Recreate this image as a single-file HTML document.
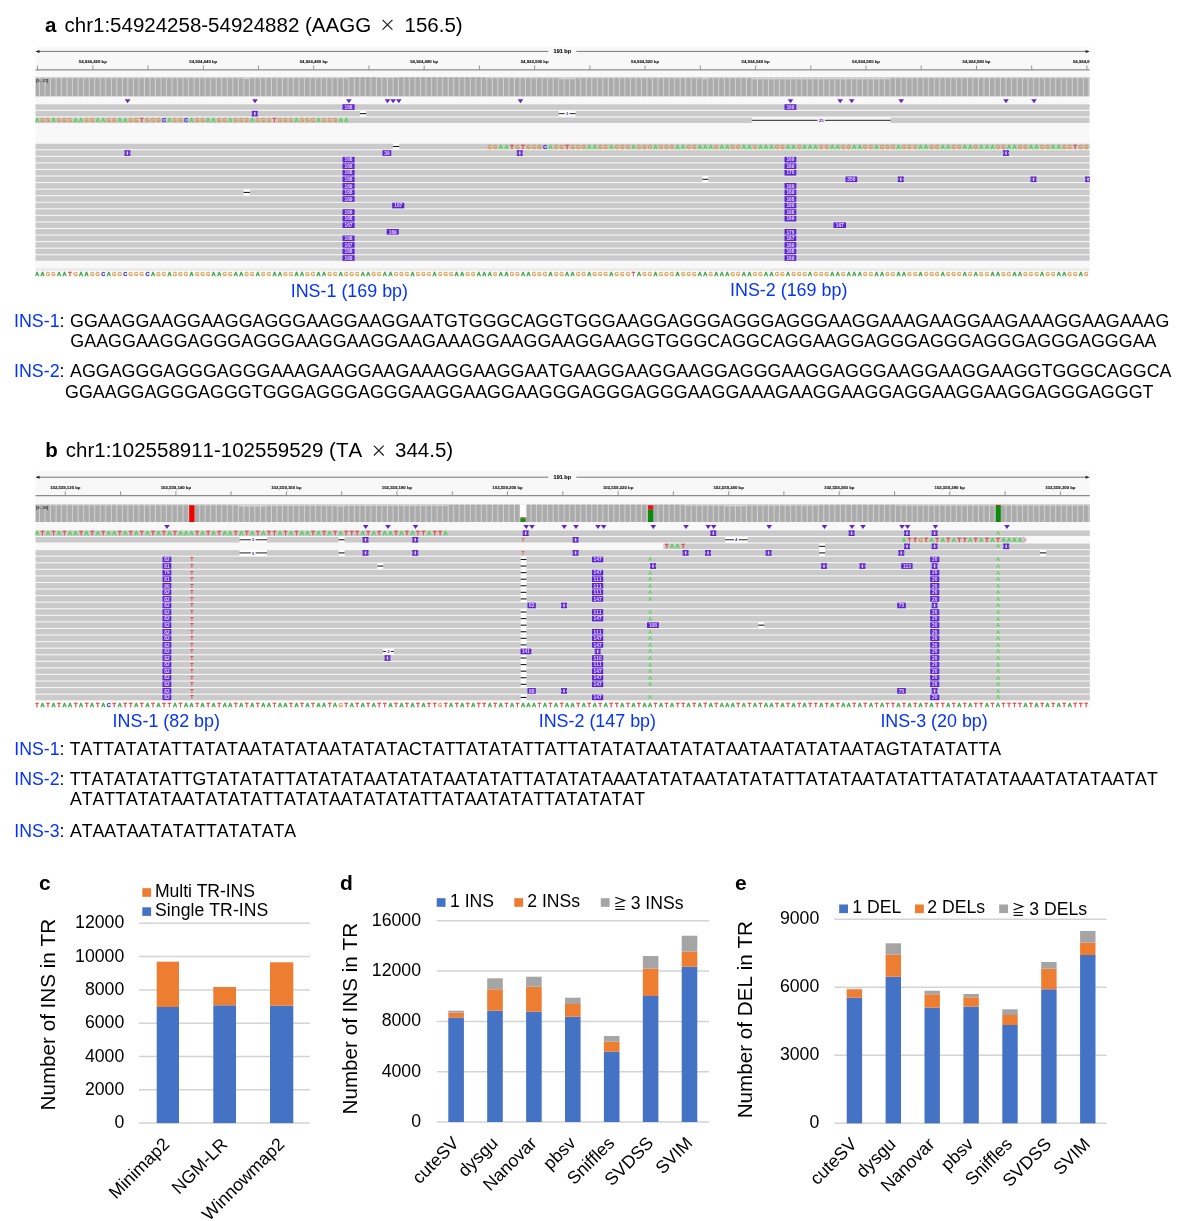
<!DOCTYPE html>
<html><head><meta charset="utf-8"><title>Figure</title>
<style>html,body{margin:0;padding:0;background:#fff}svg{display:block;will-change:transform}text{font-family:"Liberation Sans",sans-serif;font-kerning:none}</style></head><body>
<svg width="1200" height="1221" viewBox="0 0 1200 1221">
<rect width="1200" height="1221" fill="#fff"/>
<defs>
<pattern id="cov" x="34.48" y="0" width="5.523" height="40" patternUnits="userSpaceOnUse"><rect x="0" y="0" width="5.523" height="40" fill="#d2d2d2"/><rect x="0" y="0" width="4.45" height="40" fill="#ababab"/></pattern>
<clipPath id="clipA"><rect x="35.3" y="44" width="1054.4" height="236"/></clipPath>
<clipPath id="clipB"><rect x="35.3" y="468" width="1054.7" height="242"/></clipPath>
</defs>
<text x="45.00" y="31.60" font-size="20.5" fill="#000" text-anchor="start" font-weight="bold">a</text>
<text x="64.50" y="31.60" font-size="20.5" fill="#000" text-anchor="start" font-weight="normal">chr1:54924258-54924882 (AAGG</text>
<path d="M382.6 19.8l9.8 9.8M392.4 19.8l-9.8 9.8" stroke="#1a1a1a" stroke-width="1.15" fill="none"/>
<text x="404.50" y="31.60" font-size="20.5" fill="#000" text-anchor="start" font-weight="normal">156.5)</text>
<g clip-path="url(#clipA)">
<rect x="35.30" y="46.80" width="1054.50" height="221.20" fill="#f8f8f8"/>
<path d="M38.3 51.4H548.3M576.3 51.4H1086.8" stroke="#787878" stroke-width="1" fill="none"/>
<path d="M35.3 51.4l4.2 -1.5v3zM1089.8 51.4l-4.2 -1.5v3z" fill="#222"/>
<text x="562.30" y="53.35" font-size="5.5" fill="#111" text-anchor="middle" font-weight="bold" stroke="#111" stroke-width="0.15">191 bp</text>
<path d="M35.3 69.8H1089.8" stroke="#8c8c8c" stroke-width="1.2" fill="none"/>
<path d="M37.6 69.8v-4.3M92.8 69.8v-4.3M148.0 69.8v-4.3M203.3 69.8v-4.3M258.5 69.8v-4.3M313.7 69.8v-4.3M368.9 69.8v-4.3M424.2 69.8v-4.3M479.4 69.8v-4.3M534.6 69.8v-4.3M589.9 69.8v-4.3M645.1 69.8v-4.3M700.3 69.8v-4.3M755.6 69.8v-4.3M810.8 69.8v-4.3M866.0 69.8v-4.3M921.2 69.8v-4.3M976.5 69.8v-4.3M1031.7 69.8v-4.3M1086.9 69.8v-4.3M1142.2 69.8v-4.3" stroke="#8a8a8a" stroke-width="0.9" fill="none"/>
<text x="92.80" y="63.00" font-size="4.3" fill="#1a1a1a" text-anchor="middle" font-weight="bold" stroke="#1a1a1a" stroke-width="0.12">54,924,420 bp</text>
<text x="203.26" y="63.00" font-size="4.3" fill="#1a1a1a" text-anchor="middle" font-weight="bold" stroke="#1a1a1a" stroke-width="0.12">54,924,440 bp</text>
<text x="313.72" y="63.00" font-size="4.3" fill="#1a1a1a" text-anchor="middle" font-weight="bold" stroke="#1a1a1a" stroke-width="0.12">54,924,460 bp</text>
<text x="424.18" y="63.00" font-size="4.3" fill="#1a1a1a" text-anchor="middle" font-weight="bold" stroke="#1a1a1a" stroke-width="0.12">54,924,480 bp</text>
<text x="534.64" y="63.00" font-size="4.3" fill="#1a1a1a" text-anchor="middle" font-weight="bold" stroke="#1a1a1a" stroke-width="0.12">54,924,500 bp</text>
<text x="645.10" y="63.00" font-size="4.3" fill="#1a1a1a" text-anchor="middle" font-weight="bold" stroke="#1a1a1a" stroke-width="0.12">54,924,520 bp</text>
<text x="755.56" y="63.00" font-size="4.3" fill="#1a1a1a" text-anchor="middle" font-weight="bold" stroke="#1a1a1a" stroke-width="0.12">54,924,540 bp</text>
<text x="866.02" y="63.00" font-size="4.3" fill="#1a1a1a" text-anchor="middle" font-weight="bold" stroke="#1a1a1a" stroke-width="0.12">54,924,560 bp</text>
<text x="976.48" y="63.00" font-size="4.3" fill="#1a1a1a" text-anchor="middle" font-weight="bold" stroke="#1a1a1a" stroke-width="0.12">54,924,580 bp</text>
<text x="1086.94" y="63.00" font-size="4.3" fill="#1a1a1a" text-anchor="middle" font-weight="bold" stroke="#1a1a1a" stroke-width="0.12">54,924,600 bp</text>
<rect x="35.30" y="77.20" width="1054.50" height="19.20" fill="url(#cov)"/>
<rect x="35.30" y="77.20" width="312.70" height="1.10" fill="#d3d3d3"/>
<rect x="378.00" y="77.20" width="19.00" height="1.00" fill="#d3d3d3"/>
<rect x="485.00" y="77.20" width="267.00" height="1.10" fill="#d3d3d3"/>
<rect x="560.00" y="77.20" width="15.00" height="2.00" fill="#d3d3d3"/>
<rect x="702.00" y="77.20" width="6.00" height="2.00" fill="#d3d3d3"/>
<rect x="752.00" y="77.20" width="138.00" height="2.10" fill="#d3d3d3"/>
<rect x="890.00" y="77.20" width="199.80" height="1.10" fill="#d3d3d3"/>
<rect x="244.20" y="77.20" width="5.20" height="1.80" fill="#d3d3d3"/>
<text x="36.30" y="81.70" font-size="3.7" fill="#222" text-anchor="start" font-weight="bold">[0 - 21]</text>
<path d="M124.80 99.30h5.60l-2.80 3.90z" fill="#5b25d0"/>
<path d="M252.20 99.30h5.60l-2.80 3.90z" fill="#5b25d0"/>
<path d="M346.10 99.30h5.60l-2.80 3.90z" fill="#5b25d0"/>
<path d="M384.70 99.30h5.60l-2.80 3.90z" fill="#5b25d0"/>
<path d="M390.30 99.30h5.60l-2.80 3.90z" fill="#5b25d0"/>
<path d="M396.00 99.30h5.60l-2.80 3.90z" fill="#5b25d0"/>
<path d="M517.70 99.30h5.60l-2.80 3.90z" fill="#5b25d0"/>
<path d="M787.70 99.30h5.60l-2.80 3.90z" fill="#5b25d0"/>
<path d="M837.40 99.30h5.60l-2.80 3.90z" fill="#5b25d0"/>
<path d="M848.90 99.30h5.60l-2.80 3.90z" fill="#5b25d0"/>
<path d="M898.40 99.30h5.60l-2.80 3.90z" fill="#5b25d0"/>
<path d="M1003.20 99.30h5.60l-2.80 3.90z" fill="#5b25d0"/>
<path d="M1031.20 99.30h5.60l-2.80 3.90z" fill="#5b25d0"/>
<rect x="35.30" y="104.30" width="1054.50" height="5.50" fill="#cacaca"/>
<rect x="35.30" y="110.90" width="1054.50" height="5.50" fill="#cacaca"/>
<rect x="35.30" y="117.55" width="1054.50" height="5.50" fill="#cacaca"/>
<text y="122.32" font-size="5.6" font-weight="bold" fill="#4fd24f" stroke="#4fd24f" stroke-width="0.3" text-anchor="middle" x="36.9 53.5 75.6 81.1 97.7 103.2 119.7 125.3 169.5 191.5 208.1 213.6 230.2 252.3 296.5 318.6 340.7 346.2">AAAAAAAAAAAAAAAAAA</text>
<text y="122.32" font-size="5.6" font-weight="bold" fill="#d9964f" stroke="#d9964f" stroke-width="0.3" text-anchor="middle" x="42.4 47.9 59.0 64.5 70.0 86.6 92.1 108.7 114.2 130.8 136.3 147.4 152.9 158.4 175.0 180.5 197.1 202.6 219.2 224.7 235.7 241.3 246.8 257.8 263.3 268.9 279.9 285.4 291.0 302.0 307.5 313.0 324.1 329.6 335.1">GGGGGGGGGGGGGGGGGGGGGGGGGGGGGGGGGGG</text>
<text y="122.32" font-size="5.6" font-weight="bold" fill="#4040d8" stroke="#4040d8" stroke-width="0.3" text-anchor="middle" x="163.9 186.0">CC</text>
<text y="122.32" font-size="5.6" font-weight="bold" fill="#e84848" stroke="#e84848" stroke-width="0.3" text-anchor="middle" x="141.8 274.4">TT</text>
<rect x="342.50" y="104.25" width="12.10" height="5.60" fill="#5b25d0"/>
<text x="348.55" y="108.80" font-size="4.8" fill="#efd2ff" text-anchor="middle" font-weight="bold">168</text>
<rect x="784.50" y="104.25" width="11.80" height="5.60" fill="#5b25d0"/>
<text x="790.40" y="108.80" font-size="4.8" fill="#efd2ff" text-anchor="middle" font-weight="bold">169</text>
<rect x="251.80" y="110.85" width="6.00" height="5.60" fill="#5b25d0"/>
<rect x="251.80" y="112.65" width="0.75" height="2.00" fill="#cacaca" opacity="0.75"/>
<rect x="257.05" y="112.65" width="0.75" height="2.00" fill="#cacaca" opacity="0.75"/>
<rect x="254.05" y="111.95" width="1.50" height="3.40" fill="#ead0ff"/>
<rect x="360.00" y="110.55" width="6.30" height="6.20" fill="#ffffff"/>
<rect x="360.00" y="113.10" width="6.30" height="1.10" fill="#1a1a1a"/>
<rect x="558.70" y="110.55" width="16.90" height="6.20" fill="#ffffff"/>
<rect x="558.70" y="113.15" width="6.05" height="1.00" fill="#222"/>
<rect x="569.55" y="113.15" width="6.05" height="1.00" fill="#222"/>
<text x="567.15" y="115.25" font-size="4.4" fill="#5b25d0" text-anchor="middle" font-weight="bold">3</text>
<rect x="751.70" y="117.20" width="139.00" height="6.20" fill="#f8f8f8"/>
<rect x="751.70" y="119.80" width="65.80" height="1.00" fill="#222"/>
<rect x="824.90" y="119.80" width="65.80" height="1.00" fill="#222"/>
<text x="821.20" y="121.90" font-size="4.4" fill="#5b25d0" text-anchor="middle" font-weight="bold">25</text>
<rect x="35.30" y="143.75" width="1054.50" height="5.50" fill="#cacaca"/>
<rect x="35.30" y="150.31" width="1054.50" height="5.50" fill="#cacaca"/>
<rect x="35.30" y="156.87" width="1054.50" height="5.50" fill="#cacaca"/>
<rect x="35.30" y="163.43" width="1054.50" height="5.50" fill="#cacaca"/>
<rect x="35.30" y="169.99" width="1054.50" height="5.50" fill="#cacaca"/>
<rect x="35.30" y="176.55" width="1054.50" height="5.50" fill="#cacaca"/>
<rect x="35.30" y="183.11" width="1054.50" height="5.50" fill="#cacaca"/>
<rect x="35.30" y="189.67" width="1054.50" height="5.50" fill="#cacaca"/>
<rect x="35.30" y="196.23" width="1054.50" height="5.50" fill="#cacaca"/>
<rect x="35.30" y="202.79" width="1054.50" height="5.50" fill="#cacaca"/>
<rect x="35.30" y="209.35" width="1054.50" height="5.50" fill="#cacaca"/>
<rect x="35.30" y="215.91" width="1054.50" height="5.50" fill="#cacaca"/>
<rect x="35.30" y="222.47" width="1054.50" height="5.50" fill="#cacaca"/>
<rect x="35.30" y="229.03" width="1054.50" height="5.50" fill="#cacaca"/>
<rect x="35.30" y="235.59" width="1054.50" height="5.50" fill="#cacaca"/>
<rect x="35.30" y="242.15" width="1054.50" height="5.50" fill="#cacaca"/>
<rect x="35.30" y="248.71" width="1054.50" height="5.50" fill="#cacaca"/>
<rect x="35.30" y="255.27" width="1054.50" height="5.50" fill="#cacaca"/>
<text y="148.52" font-size="5.6" font-weight="bold" fill="#4fd24f" stroke="#4fd24f" stroke-width="0.3" text-anchor="middle" x="500.8 506.4 550.5 589.2 594.7 611.3 633.4 655.5 677.6 683.1 699.7 705.2 710.7 721.8 727.3 743.8 749.4 760.4 765.9 771.5 788.0 793.6 804.6 810.1 815.6 832.2 837.7 854.3 859.8 876.4 898.5 920.6 926.1 942.7 948.2 964.8 970.3 981.3 986.9 992.4 1008.9 1014.5 1031.0 1036.6 1053.1 1058.7">AAAAAAAAAAAAAAAAAAAAAAAAAAAAAAAAAAAAAAAAAAAAAA</text>
<text y="148.52" font-size="5.6" font-weight="bold" fill="#d9964f" stroke="#d9964f" stroke-width="0.3" text-anchor="middle" x="489.8 495.3 517.4 528.4 534.0 539.5 556.1 561.6 572.6 578.2 583.7 600.2 605.8 616.8 622.3 627.9 638.9 644.4 650.0 661.0 666.5 672.0 688.6 694.1 716.2 732.8 738.3 754.9 777.0 782.5 799.1 821.2 826.7 843.3 848.8 865.3 870.9 881.9 887.4 893.0 904.0 909.5 915.1 931.6 937.1 953.7 959.2 975.8 997.9 1003.4 1020.0 1025.5 1042.1 1047.6 1064.2 1069.7 1080.7 1086.3 1091.8">GGGGGGGGGGGGGGGGGGGGGGGGGGGGGGGGGGGGGGGGGGGGGGGGGGGGGGGGGGG</text>
<text y="148.52" font-size="5.6" font-weight="bold" fill="#4040d8" stroke="#4040d8" stroke-width="0.3" text-anchor="middle" x="545.0">C</text>
<text y="148.52" font-size="5.6" font-weight="bold" fill="#e84848" stroke="#e84848" stroke-width="0.3" text-anchor="middle" x="511.9 522.9 567.1 1075.2">TTTT</text>
<rect x="393.00" y="143.40" width="6.30" height="6.20" fill="#ffffff"/>
<rect x="393.00" y="145.95" width="6.30" height="1.10" fill="#1a1a1a"/>
<rect x="124.40" y="150.26" width="6.00" height="5.60" fill="#5b25d0"/>
<rect x="124.40" y="152.06" width="0.75" height="2.00" fill="#cacaca" opacity="0.75"/>
<rect x="129.65" y="152.06" width="0.75" height="2.00" fill="#cacaca" opacity="0.75"/>
<rect x="126.65" y="151.36" width="1.50" height="3.40" fill="#ead0ff"/>
<rect x="382.50" y="150.26" width="8.80" height="5.60" fill="#5b25d0"/>
<text x="386.90" y="154.81" font-size="4.8" fill="#efd2ff" text-anchor="middle" font-weight="bold">39</text>
<rect x="516.80" y="150.26" width="6.00" height="5.60" fill="#5b25d0"/>
<rect x="516.80" y="152.06" width="0.75" height="2.00" fill="#cacaca" opacity="0.75"/>
<rect x="522.05" y="152.06" width="0.75" height="2.00" fill="#cacaca" opacity="0.75"/>
<rect x="519.05" y="151.36" width="1.50" height="3.40" fill="#ead0ff"/>
<rect x="1003.00" y="150.26" width="6.00" height="5.60" fill="#5b25d0"/>
<rect x="1003.00" y="152.06" width="0.75" height="2.00" fill="#cacaca" opacity="0.75"/>
<rect x="1008.25" y="152.06" width="0.75" height="2.00" fill="#cacaca" opacity="0.75"/>
<rect x="1005.25" y="151.36" width="1.50" height="3.40" fill="#ead0ff"/>
<rect x="342.50" y="156.82" width="12.10" height="5.60" fill="#5b25d0"/>
<text x="348.55" y="161.37" font-size="4.8" fill="#efd2ff" text-anchor="middle" font-weight="bold">168</text>
<rect x="342.50" y="163.38" width="12.10" height="5.60" fill="#5b25d0"/>
<text x="348.55" y="167.93" font-size="4.8" fill="#efd2ff" text-anchor="middle" font-weight="bold">168</text>
<rect x="342.50" y="169.94" width="12.10" height="5.60" fill="#5b25d0"/>
<text x="348.55" y="174.49" font-size="4.8" fill="#efd2ff" text-anchor="middle" font-weight="bold">168</text>
<rect x="342.50" y="176.50" width="12.10" height="5.60" fill="#5b25d0"/>
<text x="348.55" y="181.05" font-size="4.8" fill="#efd2ff" text-anchor="middle" font-weight="bold">168</text>
<rect x="342.50" y="183.06" width="12.10" height="5.60" fill="#5b25d0"/>
<text x="348.55" y="187.61" font-size="4.8" fill="#efd2ff" text-anchor="middle" font-weight="bold">169</text>
<rect x="342.50" y="189.62" width="12.10" height="5.60" fill="#5b25d0"/>
<text x="348.55" y="194.17" font-size="4.8" fill="#efd2ff" text-anchor="middle" font-weight="bold">168</text>
<rect x="342.50" y="196.18" width="12.10" height="5.60" fill="#5b25d0"/>
<text x="348.55" y="200.73" font-size="4.8" fill="#efd2ff" text-anchor="middle" font-weight="bold">169</text>
<rect x="342.50" y="209.30" width="12.10" height="5.60" fill="#5b25d0"/>
<text x="348.55" y="213.85" font-size="4.8" fill="#efd2ff" text-anchor="middle" font-weight="bold">166</text>
<rect x="342.50" y="215.86" width="12.10" height="5.60" fill="#5b25d0"/>
<text x="348.55" y="220.41" font-size="4.8" fill="#efd2ff" text-anchor="middle" font-weight="bold">168</text>
<rect x="342.50" y="222.42" width="12.10" height="5.60" fill="#5b25d0"/>
<text x="348.55" y="226.97" font-size="4.8" fill="#efd2ff" text-anchor="middle" font-weight="bold">167</text>
<rect x="342.50" y="235.54" width="12.10" height="5.60" fill="#5b25d0"/>
<text x="348.55" y="240.09" font-size="4.8" fill="#efd2ff" text-anchor="middle" font-weight="bold">168</text>
<rect x="342.50" y="242.10" width="12.10" height="5.60" fill="#5b25d0"/>
<text x="348.55" y="246.65" font-size="4.8" fill="#efd2ff" text-anchor="middle" font-weight="bold">167</text>
<rect x="342.50" y="248.66" width="12.10" height="5.60" fill="#5b25d0"/>
<text x="348.55" y="253.21" font-size="4.8" fill="#efd2ff" text-anchor="middle" font-weight="bold">168</text>
<rect x="342.50" y="255.22" width="12.10" height="5.60" fill="#5b25d0"/>
<text x="348.55" y="259.77" font-size="4.8" fill="#efd2ff" text-anchor="middle" font-weight="bold">168</text>
<rect x="392.20" y="202.74" width="12.10" height="5.60" fill="#5b25d0"/>
<text x="398.25" y="207.29" font-size="4.8" fill="#efd2ff" text-anchor="middle" font-weight="bold">167</text>
<rect x="386.70" y="228.98" width="12.10" height="5.60" fill="#5b25d0"/>
<text x="392.75" y="233.53" font-size="4.8" fill="#efd2ff" text-anchor="middle" font-weight="bold">169</text>
<rect x="784.50" y="156.82" width="11.80" height="5.60" fill="#5b25d0"/>
<text x="790.40" y="161.37" font-size="4.8" fill="#efd2ff" text-anchor="middle" font-weight="bold">169</text>
<rect x="784.50" y="163.38" width="11.80" height="5.60" fill="#5b25d0"/>
<text x="790.40" y="167.93" font-size="4.8" fill="#efd2ff" text-anchor="middle" font-weight="bold">169</text>
<rect x="784.50" y="169.94" width="11.80" height="5.60" fill="#5b25d0"/>
<text x="790.40" y="174.49" font-size="4.8" fill="#efd2ff" text-anchor="middle" font-weight="bold">170</text>
<rect x="784.50" y="183.06" width="11.80" height="5.60" fill="#5b25d0"/>
<text x="790.40" y="187.61" font-size="4.8" fill="#efd2ff" text-anchor="middle" font-weight="bold">169</text>
<rect x="784.50" y="189.62" width="11.80" height="5.60" fill="#5b25d0"/>
<text x="790.40" y="194.17" font-size="4.8" fill="#efd2ff" text-anchor="middle" font-weight="bold">169</text>
<rect x="784.50" y="196.18" width="11.80" height="5.60" fill="#5b25d0"/>
<text x="790.40" y="200.73" font-size="4.8" fill="#efd2ff" text-anchor="middle" font-weight="bold">168</text>
<rect x="784.50" y="202.74" width="11.80" height="5.60" fill="#5b25d0"/>
<text x="790.40" y="207.29" font-size="4.8" fill="#efd2ff" text-anchor="middle" font-weight="bold">169</text>
<rect x="784.50" y="209.30" width="11.80" height="5.60" fill="#5b25d0"/>
<text x="790.40" y="213.85" font-size="4.8" fill="#efd2ff" text-anchor="middle" font-weight="bold">168</text>
<rect x="784.50" y="215.86" width="11.80" height="5.60" fill="#5b25d0"/>
<text x="790.40" y="220.41" font-size="4.8" fill="#efd2ff" text-anchor="middle" font-weight="bold">169</text>
<rect x="784.50" y="228.98" width="11.80" height="5.60" fill="#5b25d0"/>
<text x="790.40" y="233.53" font-size="4.8" fill="#efd2ff" text-anchor="middle" font-weight="bold">170</text>
<rect x="784.50" y="235.54" width="11.80" height="5.60" fill="#5b25d0"/>
<text x="790.40" y="240.09" font-size="4.8" fill="#efd2ff" text-anchor="middle" font-weight="bold">167</text>
<rect x="784.50" y="242.10" width="11.80" height="5.60" fill="#5b25d0"/>
<text x="790.40" y="246.65" font-size="4.8" fill="#efd2ff" text-anchor="middle" font-weight="bold">169</text>
<rect x="784.50" y="248.66" width="11.80" height="5.60" fill="#5b25d0"/>
<text x="790.40" y="253.21" font-size="4.8" fill="#efd2ff" text-anchor="middle" font-weight="bold">168</text>
<rect x="784.50" y="255.22" width="11.80" height="5.60" fill="#5b25d0"/>
<text x="790.40" y="259.77" font-size="4.8" fill="#efd2ff" text-anchor="middle" font-weight="bold">169</text>
<rect x="833.50" y="222.42" width="12.50" height="5.60" fill="#5b25d0"/>
<text x="839.75" y="226.97" font-size="4.8" fill="#efd2ff" text-anchor="middle" font-weight="bold">167</text>
<rect x="702.50" y="176.20" width="5.80" height="6.20" fill="#ffffff"/>
<rect x="702.50" y="178.75" width="5.80" height="1.10" fill="#1a1a1a"/>
<rect x="845.50" y="176.50" width="11.70" height="5.60" fill="#5b25d0"/>
<text x="851.35" y="181.05" font-size="4.8" fill="#efd2ff" text-anchor="middle" font-weight="bold">350</text>
<rect x="897.80" y="176.50" width="6.00" height="5.60" fill="#5b25d0"/>
<rect x="897.80" y="178.30" width="0.75" height="2.00" fill="#cacaca" opacity="0.75"/>
<rect x="903.05" y="178.30" width="0.75" height="2.00" fill="#cacaca" opacity="0.75"/>
<rect x="900.05" y="177.60" width="1.50" height="3.40" fill="#ead0ff"/>
<rect x="1030.50" y="176.50" width="6.00" height="5.60" fill="#5b25d0"/>
<rect x="1030.50" y="178.30" width="0.75" height="2.00" fill="#cacaca" opacity="0.75"/>
<rect x="1035.75" y="178.30" width="0.75" height="2.00" fill="#cacaca" opacity="0.75"/>
<rect x="1032.75" y="177.60" width="1.50" height="3.40" fill="#ead0ff"/>
<rect x="1085.00" y="176.50" width="6.00" height="5.60" fill="#5b25d0"/>
<rect x="1085.00" y="178.30" width="0.75" height="2.00" fill="#cacaca" opacity="0.75"/>
<rect x="1090.25" y="178.30" width="0.75" height="2.00" fill="#cacaca" opacity="0.75"/>
<rect x="1087.25" y="177.60" width="1.50" height="3.40" fill="#ead0ff"/>
<rect x="243.50" y="189.32" width="6.50" height="6.20" fill="#ffffff"/>
<rect x="243.50" y="191.87" width="6.50" height="1.10" fill="#1a1a1a"/>
</g>
<g clip-path="url(#clipA)">
<rect x="35.30" y="268.00" width="1054.50" height="3.40" fill="#ececec"/>
<rect x="35.30" y="271.40" width="1054.50" height="6.40" fill="#fdfdfd"/>
<text y="276.22" font-size="5.6" font-weight="bold" fill="#2ea43a" stroke="#2ea43a" stroke-width="0.3" text-anchor="middle" x="36.9 42.4 59.0 64.5 81.1 86.6 108.7 152.9 169.5 191.5 213.6 219.2 235.7 241.3 257.8 274.4 279.9 296.5 302.0 318.6 324.1 340.7 362.8 368.3 384.8 390.4 412.5 434.6 456.6 462.2 478.7 484.3 489.8 500.8 506.4 522.9 528.4 550.5 567.1 572.6 589.2 611.3 638.9 655.5 677.6 699.7 705.2 716.2 721.8 727.3 743.8 749.4 765.9 771.5 788.0 810.1 832.2 837.7 848.8 854.3 859.8 876.4 881.9 898.5 904.0 920.6 942.7 964.8 975.8 992.4 997.9 1014.5 1020.0 1042.1 1058.7 1064.2 1080.7">AAAAAAAAAAAAAAAAAAAAAAAAAAAAAAAAAAAAAAAAAAAAAAAAAAAAAAAAAAAAAAAAAAAAAAAAAAAAA</text>
<text y="276.22" font-size="5.6" font-weight="bold" fill="#e2a052" stroke="#e2a052" stroke-width="0.3" text-anchor="middle" x="47.9 53.5 75.6 92.1 97.7 114.2 119.7 130.8 136.3 141.8 158.4 163.9 175.0 180.5 186.0 197.1 202.6 208.1 224.7 230.2 246.8 252.3 263.3 268.9 285.4 291.0 307.5 313.0 329.6 335.1 346.2 351.7 357.2 373.8 379.3 395.9 401.4 406.9 418.0 423.5 429.0 440.1 445.6 451.1 467.7 473.2 495.3 511.9 517.4 534.0 539.5 545.0 556.1 561.6 578.2 583.7 594.7 600.2 605.8 616.8 622.3 627.9 644.4 650.0 661.0 666.5 672.0 683.1 688.6 694.1 710.7 732.8 738.3 754.9 760.4 777.0 782.5 793.6 799.1 804.6 815.6 821.2 826.7 843.3 865.3 870.9 887.4 893.0 909.5 915.1 926.1 931.6 937.1 948.2 953.7 959.2 970.3 981.3 986.9 1003.4 1008.9 1025.5 1031.0 1036.6 1047.6 1053.1 1069.7 1075.2 1086.3">GGGGGGGGGGGGGGGGGGGGGGGGGGGGGGGGGGGGGGGGGGGGGGGGGGGGGGGGGGGGGGGGGGGGGGGGGGGGGGGGGGGGGGGGGGGGGGGGGGGGGGGGGGGGG</text>
<text y="276.22" font-size="5.6" font-weight="bold" fill="#3a3ad0" stroke="#3a3ad0" stroke-width="0.3" text-anchor="middle" x="103.2 125.3 147.4">CCC</text>
<text y="276.22" font-size="5.6" font-weight="bold" fill="#e84a4a" stroke="#e84a4a" stroke-width="0.3" text-anchor="middle" x="70.0 633.4">TT</text>
</g>
<text x="290.70" y="297.30" font-size="17.9" fill="#0433ff" text-anchor="start" font-weight="normal">INS-1 (169 bp)</text>
<text x="730.00" y="296.20" font-size="17.9" fill="#0433ff" text-anchor="start" font-weight="normal">INS-2 (169 bp)</text>
<text x="14.00" y="327.30" font-size="17.88" fill="#0433ff" text-anchor="start" font-weight="normal">INS-1</text>
<text x="59.50" y="327.30" font-size="17.88" fill="#000" text-anchor="start" font-weight="normal">:</text>
<text x="70.00" y="327.30" font-size="17.88" fill="#000" text-anchor="start" font-weight="normal" textLength="1099.3" lengthAdjust="spacing">GGAAGGAAGGAAGGAGGGAAGGAAGGAATGTGGGCAGGTGGGAAGGAGGGAGGGAGGGAAGGAAAGAAGGAAGAAAGGAAGAAAG</text>
<text x="70.30" y="347.20" font-size="17.88" fill="#000" text-anchor="start" font-weight="normal" textLength="1086.2" lengthAdjust="spacing">GAAGGAAGGAGGGAGGGAAGGAAGGAAGAAAGGAAGGAAGGAAGGTGGGCAGGCAGGAAGGAGGGAGGGAGGGAGGGAGGGAA</text>
<text x="14.00" y="377.20" font-size="17.88" fill="#0433ff" text-anchor="start" font-weight="normal">INS-2</text>
<text x="59.50" y="377.20" font-size="17.88" fill="#000" text-anchor="start" font-weight="normal">:</text>
<text x="70.00" y="377.20" font-size="17.88" fill="#000" text-anchor="start" font-weight="normal" textLength="1101.5" lengthAdjust="spacing">AGGAGGGAGGGAGGGAAAGAAGGAAGAAAGGAAGGAATGAAGGAAGGAAGGAGGGAAGGAGGGAAGGAAGGAAGGTGGGCAGGCA</text>
<text x="65.00" y="397.60" font-size="17.88" fill="#000" text-anchor="start" font-weight="normal" textLength="1088.5" lengthAdjust="spacing">GGAAGGAGGGAGGGTGGGAGGGAGGGAAGGAAGGAAGGGAGGGAGGGAAGGAAAGAAGGAAGGAGGAAGGAAGGAGGGAGGGT</text>
<text x="45.30" y="457.20" font-size="20.5" fill="#000" text-anchor="start" font-weight="bold">b</text>
<text x="65.80" y="457.20" font-size="20.5" fill="#000" text-anchor="start" font-weight="normal">chr1:102558911-102559529 (TA</text>
<path d="M373.9 445.7l9.8 9.8M383.7 445.7l-9.8 9.8" stroke="#1a1a1a" stroke-width="1.15" fill="none"/>
<text x="395.00" y="457.20" font-size="20.5" fill="#000" text-anchor="start" font-weight="normal">344.5)</text>
<g clip-path="url(#clipB)">
<rect x="35.30" y="471.50" width="1054.50" height="229.10" fill="#f8f8f8"/>
<path d="M38.3 477.2H548.3M576.3 477.2H1086.8" stroke="#787878" stroke-width="1" fill="none"/>
<path d="M35.3 477.2l4.2 -1.5v3zM1089.8 477.2l-4.2 -1.5v3z" fill="#222"/>
<text x="562.30" y="479.15" font-size="5.5" fill="#111" text-anchor="middle" font-weight="bold" stroke="#111" stroke-width="0.15">191 bp</text>
<path d="M35.3 495.6H1089.8" stroke="#8c8c8c" stroke-width="1.2" fill="none"/>
<path d="M10.0 495.6v-4.3M65.3 495.6v-4.3M120.6 495.6v-4.3M175.9 495.6v-4.3M231.1 495.6v-4.3M286.4 495.6v-4.3M341.7 495.6v-4.3M397.0 495.6v-4.3M452.3 495.6v-4.3M507.5 495.6v-4.3M562.8 495.6v-4.3M618.1 495.6v-4.3M673.4 495.6v-4.3M728.7 495.6v-4.3M783.9 495.6v-4.3M839.2 495.6v-4.3M894.5 495.6v-4.3M949.8 495.6v-4.3M1005.1 495.6v-4.3M1060.3 495.6v-4.3M1115.6 495.6v-4.3" stroke="#8a8a8a" stroke-width="0.9" fill="none"/>
<text x="65.30" y="488.80" font-size="4.3" fill="#1a1a1a" text-anchor="middle" font-weight="bold" stroke="#1a1a1a" stroke-width="0.12">102,559,120 bp</text>
<text x="175.86" y="488.80" font-size="4.3" fill="#1a1a1a" text-anchor="middle" font-weight="bold" stroke="#1a1a1a" stroke-width="0.12">102,559,140 bp</text>
<text x="286.42" y="488.80" font-size="4.3" fill="#1a1a1a" text-anchor="middle" font-weight="bold" stroke="#1a1a1a" stroke-width="0.12">102,559,160 bp</text>
<text x="396.98" y="488.80" font-size="4.3" fill="#1a1a1a" text-anchor="middle" font-weight="bold" stroke="#1a1a1a" stroke-width="0.12">102,559,180 bp</text>
<text x="507.54" y="488.80" font-size="4.3" fill="#1a1a1a" text-anchor="middle" font-weight="bold" stroke="#1a1a1a" stroke-width="0.12">102,559,200 bp</text>
<text x="618.10" y="488.80" font-size="4.3" fill="#1a1a1a" text-anchor="middle" font-weight="bold" stroke="#1a1a1a" stroke-width="0.12">102,559,220 bp</text>
<text x="728.66" y="488.80" font-size="4.3" fill="#1a1a1a" text-anchor="middle" font-weight="bold" stroke="#1a1a1a" stroke-width="0.12">102,559,240 bp</text>
<text x="839.22" y="488.80" font-size="4.3" fill="#1a1a1a" text-anchor="middle" font-weight="bold" stroke="#1a1a1a" stroke-width="0.12">102,559,260 bp</text>
<text x="949.78" y="488.80" font-size="4.3" fill="#1a1a1a" text-anchor="middle" font-weight="bold" stroke="#1a1a1a" stroke-width="0.12">102,559,280 bp</text>
<text x="1060.34" y="488.80" font-size="4.3" fill="#1a1a1a" text-anchor="middle" font-weight="bold" stroke="#1a1a1a" stroke-width="0.12">102,559,300 bp</text>
<rect x="35.30" y="504.50" width="1054.50" height="17.50" fill="url(#cov)"/>
<rect x="35.30" y="504.50" width="203.70" height="0.90" fill="#d3d3d3"/>
<rect x="239.00" y="504.50" width="28.00" height="2.00" fill="#d3d3d3"/>
<rect x="267.00" y="504.50" width="181.00" height="1.40" fill="#d3d3d3"/>
<rect x="338.00" y="504.50" width="7.00" height="2.00" fill="#d3d3d3"/>
<rect x="448.00" y="504.50" width="235.00" height="0.50" fill="#d3d3d3"/>
<rect x="683.00" y="504.50" width="137.00" height="1.20" fill="#d3d3d3"/>
<rect x="725.00" y="504.50" width="22.00" height="1.80" fill="#d3d3d3"/>
<rect x="820.00" y="504.50" width="75.00" height="0.60" fill="#d3d3d3"/>
<rect x="895.00" y="504.50" width="194.80" height="1.20" fill="#d3d3d3"/>
<text x="36.30" y="509.40" font-size="3.7" fill="#222" text-anchor="start" font-weight="bold">[0 - 30]</text>
<rect x="189.20" y="505.30" width="5.30" height="16.70" fill="#f00000"/>
<rect x="520.00" y="504.30" width="6.40" height="13.30" fill="#ffffff"/>
<rect x="520.40" y="517.40" width="5.30" height="1.00" fill="#e02020"/>
<rect x="520.40" y="518.40" width="5.30" height="3.60" fill="#109010"/>
<rect x="648.00" y="505.30" width="5.20" height="4.40" fill="#f01010"/>
<rect x="648.00" y="509.70" width="5.20" height="12.30" fill="#0a8a0a"/>
<rect x="995.80" y="504.90" width="5.00" height="1.10" fill="#c03010"/>
<rect x="995.80" y="506.00" width="5.00" height="16.00" fill="#0a8a0a"/>
<path d="M164.20 525.10h5.60l-2.80 3.90z" fill="#5b25d0"/>
<path d="M362.90 525.10h5.60l-2.80 3.90z" fill="#5b25d0"/>
<path d="M385.20 525.10h5.60l-2.80 3.90z" fill="#5b25d0"/>
<path d="M412.70 525.10h5.60l-2.80 3.90z" fill="#5b25d0"/>
<path d="M523.40 525.10h5.60l-2.80 3.90z" fill="#5b25d0"/>
<path d="M529.20 525.10h5.60l-2.80 3.90z" fill="#5b25d0"/>
<path d="M561.40 525.10h5.60l-2.80 3.90z" fill="#5b25d0"/>
<path d="M573.20 525.10h5.60l-2.80 3.90z" fill="#5b25d0"/>
<path d="M595.20 525.10h5.60l-2.80 3.90z" fill="#5b25d0"/>
<path d="M600.90 525.10h5.60l-2.80 3.90z" fill="#5b25d0"/>
<path d="M650.50 525.10h5.60l-2.80 3.90z" fill="#5b25d0"/>
<path d="M683.20 525.10h5.60l-2.80 3.90z" fill="#5b25d0"/>
<path d="M705.40 525.10h5.60l-2.80 3.90z" fill="#5b25d0"/>
<path d="M710.90 525.10h5.60l-2.80 3.90z" fill="#5b25d0"/>
<path d="M766.40 525.10h5.60l-2.80 3.90z" fill="#5b25d0"/>
<path d="M821.70 525.10h5.60l-2.80 3.90z" fill="#5b25d0"/>
<path d="M849.20 525.10h5.60l-2.80 3.90z" fill="#5b25d0"/>
<path d="M860.20 525.10h5.60l-2.80 3.90z" fill="#5b25d0"/>
<path d="M899.20 525.10h5.60l-2.80 3.90z" fill="#5b25d0"/>
<path d="M904.80 525.10h5.60l-2.80 3.90z" fill="#5b25d0"/>
<path d="M932.60 525.10h5.60l-2.80 3.90z" fill="#5b25d0"/>
<path d="M1004.20 525.10h5.60l-2.80 3.90z" fill="#5b25d0"/>
<rect x="35.30" y="530.45" width="1054.50" height="5.50" fill="#cacaca"/>
<text y="535.22" font-size="5.6" font-weight="bold" fill="#4fd24f" stroke="#4fd24f" stroke-width="0.3" text-anchor="middle" x="36.9 47.9 59.0 70.0 75.6 86.6 97.7 108.7 114.2 125.3 136.3 147.4 158.4 169.5 180.5 186.0 191.5 202.6 213.6 224.7 230.2 241.3 252.3 263.3 279.9 291.0 302.0 307.5 318.6 329.6 340.7 362.8 373.8 384.8 390.4 401.4 412.5 429.0 445.6">AAAAAAAAAAAAAAAAAAAAAAAAAAAAAAAAAAAAAAA</text>
<text y="535.22" font-size="5.6" font-weight="bold" fill="#e84848" stroke="#e84848" stroke-width="0.3" text-anchor="middle" x="42.4 53.5 64.5 81.1 92.1 103.2 119.7 130.8 141.8 152.9 163.9 175.0 197.1 208.1 219.2 235.7 246.8 257.8 268.9 274.4 285.4 296.5 313.0 324.1 335.1 346.2 351.7 357.2 368.3 379.3 395.9 406.9 418.0 423.5 434.6 440.1">TTTTTTTTTTTTTTTTTTTTTTTTTTTTTTTTTTTT</text>
<rect x="522.70" y="530.40" width="6.00" height="5.60" fill="#5b25d0"/>
<rect x="522.70" y="532.20" width="0.75" height="2.00" fill="#cacaca" opacity="0.75"/>
<rect x="527.95" y="532.20" width="0.75" height="2.00" fill="#cacaca" opacity="0.75"/>
<rect x="524.95" y="531.50" width="1.50" height="3.40" fill="#ead0ff"/>
<rect x="710.30" y="530.40" width="6.00" height="5.60" fill="#5b25d0"/>
<rect x="710.30" y="532.20" width="0.75" height="2.00" fill="#cacaca" opacity="0.75"/>
<rect x="715.55" y="532.20" width="0.75" height="2.00" fill="#cacaca" opacity="0.75"/>
<rect x="712.55" y="531.50" width="1.50" height="3.40" fill="#ead0ff"/>
<rect x="848.60" y="530.40" width="6.00" height="5.60" fill="#5b25d0"/>
<rect x="848.60" y="532.20" width="0.75" height="2.00" fill="#cacaca" opacity="0.75"/>
<rect x="853.85" y="532.20" width="0.75" height="2.00" fill="#cacaca" opacity="0.75"/>
<rect x="850.85" y="531.50" width="1.50" height="3.40" fill="#ead0ff"/>
<rect x="904.00" y="530.40" width="6.00" height="5.60" fill="#5b25d0"/>
<rect x="904.00" y="532.20" width="0.75" height="2.00" fill="#cacaca" opacity="0.75"/>
<rect x="909.25" y="532.20" width="0.75" height="2.00" fill="#cacaca" opacity="0.75"/>
<rect x="906.25" y="531.50" width="1.50" height="3.40" fill="#ead0ff"/>
<rect x="931.60" y="530.40" width="6.00" height="5.60" fill="#5b25d0"/>
<rect x="931.60" y="532.20" width="0.75" height="2.00" fill="#cacaca" opacity="0.75"/>
<rect x="936.85" y="532.20" width="0.75" height="2.00" fill="#cacaca" opacity="0.75"/>
<rect x="933.85" y="531.50" width="1.50" height="3.40" fill="#ead0ff"/>
<path d="M35.3 537.02H1023l3.3 2.75l-3.3 2.75H35.3z" fill="#cacaca"/>
<rect x="239.50" y="536.67" width="27.50" height="6.20" fill="#ffffff"/>
<rect x="239.50" y="539.27" width="11.35" height="1.00" fill="#222"/>
<rect x="255.65" y="539.27" width="11.35" height="1.00" fill="#222"/>
<text x="253.25" y="541.37" font-size="4.4" fill="#5b25d0" text-anchor="middle" font-weight="bold">5</text>
<rect x="338.70" y="536.67" width="5.90" height="6.20" fill="#ffffff"/>
<rect x="338.70" y="539.22" width="5.90" height="1.10" fill="#1a1a1a"/>
<rect x="362.50" y="536.97" width="6.00" height="5.60" fill="#5b25d0"/>
<rect x="362.50" y="538.77" width="0.75" height="2.00" fill="#cacaca" opacity="0.75"/>
<rect x="367.75" y="538.77" width="0.75" height="2.00" fill="#cacaca" opacity="0.75"/>
<rect x="364.75" y="538.07" width="1.50" height="3.40" fill="#ead0ff"/>
<rect x="412.20" y="536.97" width="6.00" height="5.60" fill="#5b25d0"/>
<rect x="412.20" y="538.77" width="0.75" height="2.00" fill="#cacaca" opacity="0.75"/>
<rect x="417.45" y="538.77" width="0.75" height="2.00" fill="#cacaca" opacity="0.75"/>
<rect x="414.45" y="538.07" width="1.50" height="3.40" fill="#ead0ff"/>
<rect x="572.60" y="536.97" width="6.00" height="5.60" fill="#5b25d0"/>
<rect x="572.60" y="538.77" width="0.75" height="2.00" fill="#cacaca" opacity="0.75"/>
<rect x="577.85" y="538.77" width="0.75" height="2.00" fill="#cacaca" opacity="0.75"/>
<rect x="574.85" y="538.07" width="1.50" height="3.40" fill="#ead0ff"/>
<rect x="725.00" y="536.67" width="22.60" height="6.20" fill="#ffffff"/>
<rect x="725.00" y="539.27" width="8.90" height="1.00" fill="#222"/>
<rect x="738.70" y="539.27" width="8.90" height="1.00" fill="#222"/>
<text x="736.30" y="541.37" font-size="4.4" fill="#5b25d0" text-anchor="middle" font-weight="bold">4</text>
<text y="541.79" font-size="5.6" font-weight="bold" fill="#4fd24f" stroke="#4fd24f" stroke-width="0.3" text-anchor="middle" x="904.0 931.6 942.7 953.7 970.3 981.3 992.4 1003.4 1008.9 1014.5 1020.0">AAAAAAAAAAA</text>
<text y="541.79" font-size="5.6" font-weight="bold" fill="#d9964f" stroke="#d9964f" stroke-width="0.3" text-anchor="middle" x="920.6">G</text>
<text y="541.79" font-size="5.6" font-weight="bold" fill="#e84848" stroke="#e84848" stroke-width="0.3" text-anchor="middle" x="909.5 915.1 926.1 937.1 948.2 959.2 964.8 975.8 986.9 997.9">TTTTTTTTTT</text>
<path d="M1023.2 537.02l3.2 2.75l-3.2 2.75" stroke="#ee7a8a" stroke-width="0.9" fill="none"/>
<rect x="663.30" y="543.59" width="426.50" height="5.50" fill="#cacaca"/>
<text y="548.36" font-size="5.6" font-weight="bold" fill="#4fd24f" stroke="#4fd24f" stroke-width="0.3" text-anchor="middle" x="672.1 677.6">AA</text>
<text y="548.36" font-size="5.6" font-weight="bold" fill="#e84848" stroke="#e84848" stroke-width="0.3" text-anchor="middle" x="666.6 683.2">TT</text>
<rect x="819.20" y="543.24" width="5.90" height="6.20" fill="#ffffff"/>
<rect x="819.20" y="545.79" width="5.90" height="1.10" fill="#1a1a1a"/>
<rect x="904.00" y="543.54" width="6.00" height="5.60" fill="#5b25d0"/>
<rect x="904.00" y="545.34" width="0.75" height="2.00" fill="#cacaca" opacity="0.75"/>
<rect x="909.25" y="545.34" width="0.75" height="2.00" fill="#cacaca" opacity="0.75"/>
<rect x="906.25" y="544.64" width="1.50" height="3.40" fill="#ead0ff"/>
<rect x="931.60" y="543.54" width="6.00" height="5.60" fill="#5b25d0"/>
<rect x="931.60" y="545.34" width="0.75" height="2.00" fill="#cacaca" opacity="0.75"/>
<rect x="936.85" y="545.34" width="0.75" height="2.00" fill="#cacaca" opacity="0.75"/>
<rect x="933.85" y="544.64" width="1.50" height="3.40" fill="#ead0ff"/>
<rect x="1003.20" y="543.54" width="6.00" height="5.60" fill="#5b25d0"/>
<rect x="1003.20" y="545.34" width="0.75" height="2.00" fill="#cacaca" opacity="0.75"/>
<rect x="1008.45" y="545.34" width="0.75" height="2.00" fill="#cacaca" opacity="0.75"/>
<rect x="1005.45" y="544.64" width="1.50" height="3.40" fill="#ead0ff"/>
<rect x="35.30" y="550.16" width="1054.50" height="5.50" fill="#cacaca"/>
<rect x="239.50" y="549.81" width="27.50" height="6.20" fill="#ffffff"/>
<rect x="239.50" y="552.41" width="11.35" height="1.00" fill="#222"/>
<rect x="255.65" y="552.41" width="11.35" height="1.00" fill="#222"/>
<text x="253.25" y="554.51" font-size="4.4" fill="#5b25d0" text-anchor="middle" font-weight="bold">5</text>
<rect x="338.70" y="549.81" width="5.90" height="6.20" fill="#ffffff"/>
<rect x="338.70" y="552.36" width="5.90" height="1.10" fill="#1a1a1a"/>
<rect x="362.50" y="550.11" width="6.00" height="5.60" fill="#5b25d0"/>
<rect x="362.50" y="551.91" width="0.75" height="2.00" fill="#cacaca" opacity="0.75"/>
<rect x="367.75" y="551.91" width="0.75" height="2.00" fill="#cacaca" opacity="0.75"/>
<rect x="364.75" y="551.21" width="1.50" height="3.40" fill="#ead0ff"/>
<rect x="412.20" y="550.11" width="6.00" height="5.60" fill="#5b25d0"/>
<rect x="412.20" y="551.91" width="0.75" height="2.00" fill="#cacaca" opacity="0.75"/>
<rect x="417.45" y="551.91" width="0.75" height="2.00" fill="#cacaca" opacity="0.75"/>
<rect x="414.45" y="551.21" width="1.50" height="3.40" fill="#ead0ff"/>
<rect x="572.60" y="550.11" width="6.00" height="5.60" fill="#5b25d0"/>
<rect x="572.60" y="551.91" width="0.75" height="2.00" fill="#cacaca" opacity="0.75"/>
<rect x="577.85" y="551.91" width="0.75" height="2.00" fill="#cacaca" opacity="0.75"/>
<rect x="574.85" y="551.21" width="1.50" height="3.40" fill="#ead0ff"/>
<rect x="682.60" y="550.11" width="6.00" height="5.60" fill="#5b25d0"/>
<rect x="682.60" y="551.91" width="0.75" height="2.00" fill="#cacaca" opacity="0.75"/>
<rect x="687.85" y="551.91" width="0.75" height="2.00" fill="#cacaca" opacity="0.75"/>
<rect x="684.85" y="551.21" width="1.50" height="3.40" fill="#ead0ff"/>
<rect x="705.00" y="550.11" width="6.00" height="5.60" fill="#5b25d0"/>
<rect x="705.00" y="551.91" width="0.75" height="2.00" fill="#cacaca" opacity="0.75"/>
<rect x="710.25" y="551.91" width="0.75" height="2.00" fill="#cacaca" opacity="0.75"/>
<rect x="707.25" y="551.21" width="1.50" height="3.40" fill="#ead0ff"/>
<rect x="765.60" y="550.11" width="6.00" height="5.60" fill="#5b25d0"/>
<rect x="765.60" y="551.91" width="0.75" height="2.00" fill="#cacaca" opacity="0.75"/>
<rect x="770.85" y="551.91" width="0.75" height="2.00" fill="#cacaca" opacity="0.75"/>
<rect x="767.85" y="551.21" width="1.50" height="3.40" fill="#ead0ff"/>
<rect x="819.20" y="549.81" width="5.90" height="6.20" fill="#ffffff"/>
<rect x="819.20" y="552.36" width="5.90" height="1.10" fill="#1a1a1a"/>
<rect x="898.30" y="550.11" width="6.00" height="5.60" fill="#5b25d0"/>
<rect x="898.30" y="551.91" width="0.75" height="2.00" fill="#cacaca" opacity="0.75"/>
<rect x="903.55" y="551.91" width="0.75" height="2.00" fill="#cacaca" opacity="0.75"/>
<rect x="900.55" y="551.21" width="1.50" height="3.40" fill="#ead0ff"/>
<rect x="1040.00" y="549.81" width="6.20" height="6.20" fill="#ffffff"/>
<rect x="1040.00" y="552.36" width="6.20" height="1.10" fill="#1a1a1a"/>
<rect x="35.30" y="556.73" width="1054.50" height="5.50" fill="#cacaca"/>
<rect x="35.30" y="563.30" width="1054.50" height="5.50" fill="#cacaca"/>
<rect x="35.30" y="569.87" width="1054.50" height="5.50" fill="#cacaca"/>
<rect x="35.30" y="576.44" width="1054.50" height="5.50" fill="#cacaca"/>
<rect x="35.30" y="583.01" width="1054.50" height="5.50" fill="#cacaca"/>
<rect x="35.30" y="589.58" width="1054.50" height="5.50" fill="#cacaca"/>
<rect x="35.30" y="596.15" width="1054.50" height="5.50" fill="#cacaca"/>
<rect x="35.30" y="602.72" width="1054.50" height="5.50" fill="#cacaca"/>
<rect x="35.30" y="609.29" width="1054.50" height="5.50" fill="#cacaca"/>
<rect x="35.30" y="615.86" width="1054.50" height="5.50" fill="#cacaca"/>
<rect x="35.30" y="622.43" width="1054.50" height="5.50" fill="#cacaca"/>
<rect x="35.30" y="629.00" width="1054.50" height="5.50" fill="#cacaca"/>
<rect x="35.30" y="635.57" width="1054.50" height="5.50" fill="#cacaca"/>
<rect x="35.30" y="642.14" width="1054.50" height="5.50" fill="#cacaca"/>
<rect x="35.30" y="648.71" width="1054.50" height="5.50" fill="#cacaca"/>
<rect x="35.30" y="655.28" width="1054.50" height="5.50" fill="#cacaca"/>
<rect x="35.30" y="661.85" width="1054.50" height="5.50" fill="#cacaca"/>
<rect x="35.30" y="668.42" width="1054.50" height="5.50" fill="#cacaca"/>
<rect x="35.30" y="674.99" width="1054.50" height="5.50" fill="#cacaca"/>
<rect x="35.30" y="681.56" width="1054.50" height="5.50" fill="#cacaca"/>
<rect x="35.30" y="688.13" width="1054.50" height="5.50" fill="#cacaca"/>
<rect x="35.30" y="694.70" width="1054.50" height="5.50" fill="#cacaca"/>
<text x="523.00" y="541.67" font-size="5.2" fill="#e85a5a" text-anchor="middle" font-weight="bold">T</text>
<text x="523.00" y="554.81" font-size="5.2" fill="#e85a5a" text-anchor="middle" font-weight="bold">T</text>
<rect x="162.50" y="556.68" width="8.80" height="5.60" fill="#5b25d0"/>
<text x="166.90" y="561.23" font-size="4.8" fill="#efd2ff" text-anchor="middle" font-weight="bold">82</text>
<text x="191.80" y="561.38" font-size="5.4" fill="#e83a3a" text-anchor="middle" font-weight="bold">T</text>
<rect x="162.50" y="563.25" width="8.80" height="5.60" fill="#5b25d0"/>
<text x="166.90" y="567.80" font-size="4.8" fill="#efd2ff" text-anchor="middle" font-weight="bold">81</text>
<text x="191.80" y="567.95" font-size="5.4" fill="#e83a3a" text-anchor="middle" font-weight="bold">T</text>
<rect x="162.50" y="569.82" width="8.80" height="5.60" fill="#5b25d0"/>
<text x="166.90" y="574.37" font-size="4.8" fill="#efd2ff" text-anchor="middle" font-weight="bold">79</text>
<text x="191.80" y="574.52" font-size="5.4" fill="#e83a3a" text-anchor="middle" font-weight="bold">T</text>
<rect x="162.50" y="576.39" width="8.80" height="5.60" fill="#5b25d0"/>
<text x="166.90" y="580.94" font-size="4.8" fill="#efd2ff" text-anchor="middle" font-weight="bold">81</text>
<text x="191.80" y="581.09" font-size="5.4" fill="#e83a3a" text-anchor="middle" font-weight="bold">T</text>
<rect x="162.50" y="582.96" width="8.80" height="5.60" fill="#5b25d0"/>
<text x="166.90" y="587.51" font-size="4.8" fill="#efd2ff" text-anchor="middle" font-weight="bold">80</text>
<text x="191.80" y="587.66" font-size="5.4" fill="#e83a3a" text-anchor="middle" font-weight="bold">T</text>
<rect x="162.50" y="589.53" width="8.80" height="5.60" fill="#5b25d0"/>
<text x="166.90" y="594.08" font-size="4.8" fill="#efd2ff" text-anchor="middle" font-weight="bold">82</text>
<text x="191.80" y="594.23" font-size="5.4" fill="#e83a3a" text-anchor="middle" font-weight="bold">T</text>
<rect x="162.50" y="596.10" width="8.80" height="5.60" fill="#5b25d0"/>
<text x="166.90" y="600.65" font-size="4.8" fill="#efd2ff" text-anchor="middle" font-weight="bold">82</text>
<text x="191.80" y="600.80" font-size="5.4" fill="#e83a3a" text-anchor="middle" font-weight="bold">T</text>
<rect x="162.50" y="602.67" width="8.80" height="5.60" fill="#5b25d0"/>
<text x="166.90" y="607.22" font-size="4.8" fill="#efd2ff" text-anchor="middle" font-weight="bold">82</text>
<text x="191.80" y="607.37" font-size="5.4" fill="#e83a3a" text-anchor="middle" font-weight="bold">T</text>
<rect x="162.50" y="609.24" width="8.80" height="5.60" fill="#5b25d0"/>
<text x="166.90" y="613.79" font-size="4.8" fill="#efd2ff" text-anchor="middle" font-weight="bold">82</text>
<text x="191.80" y="613.94" font-size="5.4" fill="#e83a3a" text-anchor="middle" font-weight="bold">T</text>
<rect x="162.50" y="615.81" width="8.80" height="5.60" fill="#5b25d0"/>
<text x="166.90" y="620.36" font-size="4.8" fill="#efd2ff" text-anchor="middle" font-weight="bold">82</text>
<text x="191.80" y="620.51" font-size="5.4" fill="#e83a3a" text-anchor="middle" font-weight="bold">T</text>
<rect x="162.50" y="622.38" width="8.80" height="5.60" fill="#5b25d0"/>
<text x="166.90" y="626.93" font-size="4.8" fill="#efd2ff" text-anchor="middle" font-weight="bold">82</text>
<text x="191.80" y="627.08" font-size="5.4" fill="#e83a3a" text-anchor="middle" font-weight="bold">T</text>
<rect x="162.50" y="628.95" width="8.80" height="5.60" fill="#5b25d0"/>
<text x="166.90" y="633.50" font-size="4.8" fill="#efd2ff" text-anchor="middle" font-weight="bold">82</text>
<text x="191.80" y="633.65" font-size="5.4" fill="#e83a3a" text-anchor="middle" font-weight="bold">T</text>
<rect x="162.50" y="635.52" width="8.80" height="5.60" fill="#5b25d0"/>
<text x="166.90" y="640.07" font-size="4.8" fill="#efd2ff" text-anchor="middle" font-weight="bold">82</text>
<text x="191.80" y="640.22" font-size="5.4" fill="#e83a3a" text-anchor="middle" font-weight="bold">T</text>
<rect x="162.50" y="642.09" width="8.80" height="5.60" fill="#5b25d0"/>
<text x="166.90" y="646.64" font-size="4.8" fill="#efd2ff" text-anchor="middle" font-weight="bold">82</text>
<text x="191.80" y="646.79" font-size="5.4" fill="#e83a3a" text-anchor="middle" font-weight="bold">T</text>
<rect x="162.50" y="648.66" width="8.80" height="5.60" fill="#5b25d0"/>
<text x="166.90" y="653.21" font-size="4.8" fill="#efd2ff" text-anchor="middle" font-weight="bold">82</text>
<text x="191.80" y="653.36" font-size="5.4" fill="#e83a3a" text-anchor="middle" font-weight="bold">T</text>
<rect x="162.50" y="655.23" width="8.80" height="5.60" fill="#5b25d0"/>
<text x="166.90" y="659.78" font-size="4.8" fill="#efd2ff" text-anchor="middle" font-weight="bold">82</text>
<text x="191.80" y="659.93" font-size="5.4" fill="#e83a3a" text-anchor="middle" font-weight="bold">T</text>
<rect x="162.50" y="661.80" width="8.80" height="5.60" fill="#5b25d0"/>
<text x="166.90" y="666.35" font-size="4.8" fill="#efd2ff" text-anchor="middle" font-weight="bold">82</text>
<text x="191.80" y="666.50" font-size="5.4" fill="#e83a3a" text-anchor="middle" font-weight="bold">T</text>
<rect x="162.50" y="668.37" width="8.80" height="5.60" fill="#5b25d0"/>
<text x="166.90" y="672.92" font-size="4.8" fill="#efd2ff" text-anchor="middle" font-weight="bold">82</text>
<text x="191.80" y="673.07" font-size="5.4" fill="#e83a3a" text-anchor="middle" font-weight="bold">T</text>
<rect x="162.50" y="674.94" width="8.80" height="5.60" fill="#5b25d0"/>
<text x="166.90" y="679.49" font-size="4.8" fill="#efd2ff" text-anchor="middle" font-weight="bold">82</text>
<text x="191.80" y="679.64" font-size="5.4" fill="#e83a3a" text-anchor="middle" font-weight="bold">T</text>
<rect x="162.50" y="681.51" width="8.80" height="5.60" fill="#5b25d0"/>
<text x="166.90" y="686.06" font-size="4.8" fill="#efd2ff" text-anchor="middle" font-weight="bold">82</text>
<text x="191.80" y="686.21" font-size="5.4" fill="#e83a3a" text-anchor="middle" font-weight="bold">T</text>
<rect x="162.50" y="688.08" width="8.80" height="5.60" fill="#5b25d0"/>
<text x="166.90" y="692.63" font-size="4.8" fill="#efd2ff" text-anchor="middle" font-weight="bold">82</text>
<text x="191.80" y="692.78" font-size="5.4" fill="#e83a3a" text-anchor="middle" font-weight="bold">T</text>
<rect x="162.50" y="694.65" width="8.80" height="5.60" fill="#5b25d0"/>
<text x="166.90" y="699.20" font-size="4.8" fill="#efd2ff" text-anchor="middle" font-weight="bold">82</text>
<text x="191.80" y="699.35" font-size="5.4" fill="#e83a3a" text-anchor="middle" font-weight="bold">T</text>
<rect x="520.70" y="556.38" width="5.70" height="6.20" fill="#ffffff"/>
<rect x="520.70" y="558.93" width="5.70" height="1.10" fill="#1a1a1a"/>
<rect x="592.00" y="556.68" width="11.20" height="5.60" fill="#5b25d0"/>
<text x="597.60" y="561.23" font-size="4.8" fill="#efd2ff" text-anchor="middle" font-weight="bold">147</text>
<rect x="520.70" y="562.95" width="5.70" height="6.20" fill="#ffffff"/>
<rect x="520.70" y="565.50" width="5.70" height="1.10" fill="#1a1a1a"/>
<rect x="520.70" y="569.52" width="5.70" height="6.20" fill="#ffffff"/>
<rect x="520.70" y="572.07" width="5.70" height="1.10" fill="#1a1a1a"/>
<rect x="592.00" y="569.82" width="11.20" height="5.60" fill="#5b25d0"/>
<text x="597.60" y="574.37" font-size="4.8" fill="#efd2ff" text-anchor="middle" font-weight="bold">147</text>
<rect x="520.70" y="576.09" width="5.70" height="6.20" fill="#ffffff"/>
<rect x="520.70" y="578.64" width="5.70" height="1.10" fill="#1a1a1a"/>
<rect x="592.00" y="576.39" width="11.20" height="5.60" fill="#5b25d0"/>
<text x="597.60" y="580.94" font-size="4.8" fill="#efd2ff" text-anchor="middle" font-weight="bold">111</text>
<rect x="520.70" y="582.66" width="5.70" height="6.20" fill="#ffffff"/>
<rect x="520.70" y="585.21" width="5.70" height="1.10" fill="#1a1a1a"/>
<rect x="592.00" y="582.96" width="11.20" height="5.60" fill="#5b25d0"/>
<text x="597.60" y="587.51" font-size="4.8" fill="#efd2ff" text-anchor="middle" font-weight="bold">111</text>
<rect x="520.70" y="589.23" width="5.70" height="6.20" fill="#ffffff"/>
<rect x="520.70" y="591.78" width="5.70" height="1.10" fill="#1a1a1a"/>
<rect x="592.00" y="589.53" width="11.20" height="5.60" fill="#5b25d0"/>
<text x="597.60" y="594.08" font-size="4.8" fill="#efd2ff" text-anchor="middle" font-weight="bold">111</text>
<rect x="520.70" y="595.80" width="5.70" height="6.20" fill="#ffffff"/>
<rect x="520.70" y="598.35" width="5.70" height="1.10" fill="#1a1a1a"/>
<rect x="592.00" y="596.10" width="11.20" height="5.60" fill="#5b25d0"/>
<text x="597.60" y="600.65" font-size="4.8" fill="#efd2ff" text-anchor="middle" font-weight="bold">147</text>
<rect x="520.70" y="608.94" width="5.70" height="6.20" fill="#ffffff"/>
<rect x="520.70" y="611.49" width="5.70" height="1.10" fill="#1a1a1a"/>
<rect x="592.00" y="609.24" width="11.20" height="5.60" fill="#5b25d0"/>
<text x="597.60" y="613.79" font-size="4.8" fill="#efd2ff" text-anchor="middle" font-weight="bold">111</text>
<rect x="520.70" y="615.51" width="5.70" height="6.20" fill="#ffffff"/>
<rect x="520.70" y="618.06" width="5.70" height="1.10" fill="#1a1a1a"/>
<rect x="592.00" y="615.81" width="11.20" height="5.60" fill="#5b25d0"/>
<text x="597.60" y="620.36" font-size="4.8" fill="#efd2ff" text-anchor="middle" font-weight="bold">147</text>
<rect x="520.70" y="622.08" width="5.70" height="6.20" fill="#ffffff"/>
<rect x="520.70" y="624.63" width="5.70" height="1.10" fill="#1a1a1a"/>
<rect x="520.70" y="628.65" width="5.70" height="6.20" fill="#ffffff"/>
<rect x="520.70" y="631.20" width="5.70" height="1.10" fill="#1a1a1a"/>
<rect x="592.00" y="628.95" width="11.20" height="5.60" fill="#5b25d0"/>
<text x="597.60" y="633.50" font-size="4.8" fill="#efd2ff" text-anchor="middle" font-weight="bold">111</text>
<rect x="520.70" y="635.22" width="5.70" height="6.20" fill="#ffffff"/>
<rect x="520.70" y="637.77" width="5.70" height="1.10" fill="#1a1a1a"/>
<rect x="592.00" y="635.52" width="11.20" height="5.60" fill="#5b25d0"/>
<text x="597.60" y="640.07" font-size="4.8" fill="#efd2ff" text-anchor="middle" font-weight="bold">147</text>
<rect x="520.70" y="641.79" width="5.70" height="6.20" fill="#ffffff"/>
<rect x="520.70" y="644.34" width="5.70" height="1.10" fill="#1a1a1a"/>
<rect x="592.00" y="642.09" width="11.20" height="5.60" fill="#5b25d0"/>
<text x="597.60" y="646.64" font-size="4.8" fill="#efd2ff" text-anchor="middle" font-weight="bold">147</text>
<rect x="520.70" y="654.93" width="5.70" height="6.20" fill="#ffffff"/>
<rect x="520.70" y="657.48" width="5.70" height="1.10" fill="#1a1a1a"/>
<rect x="592.00" y="655.23" width="11.20" height="5.60" fill="#5b25d0"/>
<text x="597.60" y="659.78" font-size="4.8" fill="#efd2ff" text-anchor="middle" font-weight="bold">110</text>
<rect x="520.70" y="661.50" width="5.70" height="6.20" fill="#ffffff"/>
<rect x="520.70" y="664.05" width="5.70" height="1.10" fill="#1a1a1a"/>
<rect x="592.00" y="661.80" width="11.20" height="5.60" fill="#5b25d0"/>
<text x="597.60" y="666.35" font-size="4.8" fill="#efd2ff" text-anchor="middle" font-weight="bold">111</text>
<rect x="520.70" y="668.07" width="5.70" height="6.20" fill="#ffffff"/>
<rect x="520.70" y="670.62" width="5.70" height="1.10" fill="#1a1a1a"/>
<rect x="592.00" y="668.37" width="11.20" height="5.60" fill="#5b25d0"/>
<text x="597.60" y="672.92" font-size="4.8" fill="#efd2ff" text-anchor="middle" font-weight="bold">147</text>
<rect x="520.70" y="674.64" width="5.70" height="6.20" fill="#ffffff"/>
<rect x="520.70" y="677.19" width="5.70" height="1.10" fill="#1a1a1a"/>
<rect x="592.00" y="674.94" width="11.20" height="5.60" fill="#5b25d0"/>
<text x="597.60" y="679.49" font-size="4.8" fill="#efd2ff" text-anchor="middle" font-weight="bold">147</text>
<rect x="520.70" y="681.21" width="5.70" height="6.20" fill="#ffffff"/>
<rect x="520.70" y="683.76" width="5.70" height="1.10" fill="#1a1a1a"/>
<rect x="592.00" y="681.51" width="11.20" height="5.60" fill="#5b25d0"/>
<text x="597.60" y="686.06" font-size="4.8" fill="#efd2ff" text-anchor="middle" font-weight="bold">147</text>
<rect x="520.70" y="694.35" width="5.70" height="6.20" fill="#ffffff"/>
<rect x="520.70" y="696.90" width="5.70" height="1.10" fill="#1a1a1a"/>
<rect x="592.00" y="694.65" width="11.20" height="5.60" fill="#5b25d0"/>
<text x="597.60" y="699.20" font-size="4.8" fill="#efd2ff" text-anchor="middle" font-weight="bold">147</text>
<rect x="377.50" y="562.95" width="5.70" height="6.20" fill="#ffffff"/>
<rect x="377.50" y="565.50" width="5.70" height="1.10" fill="#1a1a1a"/>
<rect x="527.50" y="602.67" width="8.30" height="5.60" fill="#5b25d0"/>
<text x="531.65" y="607.22" font-size="4.8" fill="#efd2ff" text-anchor="middle" font-weight="bold">82</text>
<rect x="561.00" y="602.67" width="6.00" height="5.60" fill="#5b25d0"/>
<rect x="561.00" y="604.47" width="0.75" height="2.00" fill="#cacaca" opacity="0.75"/>
<rect x="566.25" y="604.47" width="0.75" height="2.00" fill="#cacaca" opacity="0.75"/>
<rect x="563.25" y="603.77" width="1.50" height="3.40" fill="#ead0ff"/>
<rect x="527.50" y="688.08" width="8.30" height="5.60" fill="#5b25d0"/>
<text x="531.65" y="692.63" font-size="4.8" fill="#efd2ff" text-anchor="middle" font-weight="bold">88</text>
<rect x="561.00" y="688.08" width="6.00" height="5.60" fill="#5b25d0"/>
<rect x="561.00" y="689.88" width="0.75" height="2.00" fill="#cacaca" opacity="0.75"/>
<rect x="566.25" y="689.88" width="0.75" height="2.00" fill="#cacaca" opacity="0.75"/>
<rect x="563.25" y="689.18" width="1.50" height="3.40" fill="#ead0ff"/>
<rect x="383.00" y="648.36" width="10.80" height="6.20" fill="#ffffff"/>
<rect x="383.00" y="650.96" width="3.00" height="1.00" fill="#222"/>
<rect x="390.80" y="650.96" width="3.00" height="1.00" fill="#222"/>
<text x="388.40" y="653.06" font-size="4.4" fill="#5b25d0" text-anchor="middle" font-weight="bold">2</text>
<rect x="520.50" y="648.66" width="10.80" height="5.60" fill="#5b25d0"/>
<text x="525.90" y="653.21" font-size="4.8" fill="#efd2ff" text-anchor="middle" font-weight="bold">141</text>
<rect x="594.70" y="648.66" width="6.00" height="5.60" fill="#5b25d0"/>
<rect x="594.70" y="650.46" width="0.75" height="2.00" fill="#cacaca" opacity="0.75"/>
<rect x="599.95" y="650.46" width="0.75" height="2.00" fill="#cacaca" opacity="0.75"/>
<rect x="596.95" y="649.76" width="1.50" height="3.40" fill="#ead0ff"/>
<rect x="384.50" y="655.23" width="6.00" height="5.60" fill="#5b25d0"/>
<rect x="384.50" y="657.03" width="0.75" height="2.00" fill="#cacaca" opacity="0.75"/>
<rect x="389.75" y="657.03" width="0.75" height="2.00" fill="#cacaca" opacity="0.75"/>
<rect x="386.75" y="656.33" width="1.50" height="3.40" fill="#ead0ff"/>
<text x="650.20" y="561.38" font-size="5.4" fill="#4ad84a" text-anchor="middle" font-weight="bold">A</text>
<text x="650.20" y="574.52" font-size="5.4" fill="#4ad84a" text-anchor="middle" font-weight="bold">A</text>
<text x="650.20" y="581.09" font-size="5.4" fill="#4ad84a" text-anchor="middle" font-weight="bold">A</text>
<text x="650.20" y="587.66" font-size="5.4" fill="#4ad84a" text-anchor="middle" font-weight="bold">A</text>
<text x="650.20" y="594.23" font-size="5.4" fill="#4ad84a" text-anchor="middle" font-weight="bold">A</text>
<text x="650.20" y="600.80" font-size="5.4" fill="#4ad84a" text-anchor="middle" font-weight="bold">A</text>
<text x="650.20" y="613.94" font-size="5.4" fill="#4ad84a" text-anchor="middle" font-weight="bold">A</text>
<text x="650.20" y="620.51" font-size="5.4" fill="#4ad84a" text-anchor="middle" font-weight="bold">A</text>
<text x="650.20" y="633.65" font-size="5.4" fill="#4ad84a" text-anchor="middle" font-weight="bold">A</text>
<text x="650.20" y="640.22" font-size="5.4" fill="#4ad84a" text-anchor="middle" font-weight="bold">A</text>
<text x="650.20" y="646.79" font-size="5.4" fill="#4ad84a" text-anchor="middle" font-weight="bold">A</text>
<text x="650.20" y="653.36" font-size="5.4" fill="#4ad84a" text-anchor="middle" font-weight="bold">A</text>
<text x="650.20" y="659.93" font-size="5.4" fill="#4ad84a" text-anchor="middle" font-weight="bold">A</text>
<text x="650.20" y="666.50" font-size="5.4" fill="#4ad84a" text-anchor="middle" font-weight="bold">A</text>
<text x="650.20" y="673.07" font-size="5.4" fill="#4ad84a" text-anchor="middle" font-weight="bold">A</text>
<text x="650.20" y="679.64" font-size="5.4" fill="#4ad84a" text-anchor="middle" font-weight="bold">A</text>
<text x="650.20" y="686.21" font-size="5.4" fill="#4ad84a" text-anchor="middle" font-weight="bold">A</text>
<text x="650.20" y="699.35" font-size="5.4" fill="#4ad84a" text-anchor="middle" font-weight="bold">A</text>
<text x="998.20" y="535.10" font-size="5.4" fill="#4ad84a" text-anchor="middle" font-weight="bold">A</text>
<text x="998.20" y="548.24" font-size="5.4" fill="#4ad84a" text-anchor="middle" font-weight="bold">A</text>
<text x="998.20" y="561.38" font-size="5.4" fill="#4ad84a" text-anchor="middle" font-weight="bold">A</text>
<text x="998.20" y="567.95" font-size="5.4" fill="#4ad84a" text-anchor="middle" font-weight="bold">A</text>
<text x="998.20" y="574.52" font-size="5.4" fill="#4ad84a" text-anchor="middle" font-weight="bold">A</text>
<text x="998.20" y="581.09" font-size="5.4" fill="#4ad84a" text-anchor="middle" font-weight="bold">A</text>
<text x="998.20" y="587.66" font-size="5.4" fill="#4ad84a" text-anchor="middle" font-weight="bold">A</text>
<text x="998.20" y="594.23" font-size="5.4" fill="#4ad84a" text-anchor="middle" font-weight="bold">A</text>
<text x="998.20" y="600.80" font-size="5.4" fill="#4ad84a" text-anchor="middle" font-weight="bold">A</text>
<text x="998.20" y="607.37" font-size="5.4" fill="#4ad84a" text-anchor="middle" font-weight="bold">A</text>
<text x="998.20" y="613.94" font-size="5.4" fill="#4ad84a" text-anchor="middle" font-weight="bold">A</text>
<text x="998.20" y="620.51" font-size="5.4" fill="#4ad84a" text-anchor="middle" font-weight="bold">A</text>
<text x="998.20" y="627.08" font-size="5.4" fill="#4ad84a" text-anchor="middle" font-weight="bold">A</text>
<text x="998.20" y="633.65" font-size="5.4" fill="#4ad84a" text-anchor="middle" font-weight="bold">A</text>
<text x="998.20" y="640.22" font-size="5.4" fill="#4ad84a" text-anchor="middle" font-weight="bold">A</text>
<text x="998.20" y="646.79" font-size="5.4" fill="#4ad84a" text-anchor="middle" font-weight="bold">A</text>
<text x="998.20" y="653.36" font-size="5.4" fill="#4ad84a" text-anchor="middle" font-weight="bold">A</text>
<text x="998.20" y="659.93" font-size="5.4" fill="#4ad84a" text-anchor="middle" font-weight="bold">A</text>
<text x="998.20" y="666.50" font-size="5.4" fill="#4ad84a" text-anchor="middle" font-weight="bold">A</text>
<text x="998.20" y="673.07" font-size="5.4" fill="#4ad84a" text-anchor="middle" font-weight="bold">A</text>
<text x="998.20" y="679.64" font-size="5.4" fill="#4ad84a" text-anchor="middle" font-weight="bold">A</text>
<text x="998.20" y="686.21" font-size="5.4" fill="#4ad84a" text-anchor="middle" font-weight="bold">A</text>
<text x="998.20" y="692.78" font-size="5.4" fill="#4ad84a" text-anchor="middle" font-weight="bold">A</text>
<text x="998.20" y="699.35" font-size="5.4" fill="#4ad84a" text-anchor="middle" font-weight="bold">A</text>
<rect x="650.00" y="563.25" width="6.00" height="5.60" fill="#5b25d0"/>
<rect x="650.00" y="565.05" width="0.75" height="2.00" fill="#cacaca" opacity="0.75"/>
<rect x="655.25" y="565.05" width="0.75" height="2.00" fill="#cacaca" opacity="0.75"/>
<rect x="652.25" y="564.35" width="1.50" height="3.40" fill="#ead0ff"/>
<rect x="821.00" y="563.25" width="6.00" height="5.60" fill="#5b25d0"/>
<rect x="821.00" y="565.05" width="0.75" height="2.00" fill="#cacaca" opacity="0.75"/>
<rect x="826.25" y="565.05" width="0.75" height="2.00" fill="#cacaca" opacity="0.75"/>
<rect x="823.25" y="564.35" width="1.50" height="3.40" fill="#ead0ff"/>
<rect x="859.40" y="563.25" width="6.00" height="5.60" fill="#5b25d0"/>
<rect x="859.40" y="565.05" width="0.75" height="2.00" fill="#cacaca" opacity="0.75"/>
<rect x="864.65" y="565.05" width="0.75" height="2.00" fill="#cacaca" opacity="0.75"/>
<rect x="861.65" y="564.35" width="1.50" height="3.40" fill="#ead0ff"/>
<rect x="901.20" y="563.25" width="11.40" height="5.60" fill="#5b25d0"/>
<text x="906.90" y="567.80" font-size="4.8" fill="#efd2ff" text-anchor="middle" font-weight="bold">113</text>
<rect x="931.60" y="563.25" width="6.00" height="5.60" fill="#5b25d0"/>
<rect x="931.60" y="565.05" width="0.75" height="2.00" fill="#cacaca" opacity="0.75"/>
<rect x="936.85" y="565.05" width="0.75" height="2.00" fill="#cacaca" opacity="0.75"/>
<rect x="933.85" y="564.35" width="1.50" height="3.40" fill="#ead0ff"/>
<rect x="647.00" y="622.38" width="11.80" height="5.60" fill="#5b25d0"/>
<text x="652.90" y="626.93" font-size="4.8" fill="#efd2ff" text-anchor="middle" font-weight="bold">108</text>
<rect x="758.20" y="622.08" width="6.10" height="6.20" fill="#ffffff"/>
<rect x="758.20" y="624.63" width="6.10" height="1.10" fill="#1a1a1a"/>
<rect x="930.20" y="556.68" width="9.10" height="5.60" fill="#5b25d0"/>
<text x="934.75" y="561.23" font-size="4.8" fill="#efd2ff" text-anchor="middle" font-weight="bold">20</text>
<rect x="930.20" y="569.82" width="9.10" height="5.60" fill="#5b25d0"/>
<text x="934.75" y="574.37" font-size="4.8" fill="#efd2ff" text-anchor="middle" font-weight="bold">20</text>
<rect x="930.20" y="576.39" width="9.10" height="5.60" fill="#5b25d0"/>
<text x="934.75" y="580.94" font-size="4.8" fill="#efd2ff" text-anchor="middle" font-weight="bold">20</text>
<rect x="930.20" y="582.96" width="9.10" height="5.60" fill="#5b25d0"/>
<text x="934.75" y="587.51" font-size="4.8" fill="#efd2ff" text-anchor="middle" font-weight="bold">20</text>
<rect x="930.20" y="589.53" width="9.10" height="5.60" fill="#5b25d0"/>
<text x="934.75" y="594.08" font-size="4.8" fill="#efd2ff" text-anchor="middle" font-weight="bold">20</text>
<rect x="930.20" y="596.10" width="9.10" height="5.60" fill="#5b25d0"/>
<text x="934.75" y="600.65" font-size="4.8" fill="#efd2ff" text-anchor="middle" font-weight="bold">20</text>
<rect x="930.20" y="609.24" width="9.10" height="5.60" fill="#5b25d0"/>
<text x="934.75" y="613.79" font-size="4.8" fill="#efd2ff" text-anchor="middle" font-weight="bold">20</text>
<rect x="930.20" y="615.81" width="9.10" height="5.60" fill="#5b25d0"/>
<text x="934.75" y="620.36" font-size="4.8" fill="#efd2ff" text-anchor="middle" font-weight="bold">20</text>
<rect x="930.20" y="622.38" width="9.10" height="5.60" fill="#5b25d0"/>
<text x="934.75" y="626.93" font-size="4.8" fill="#efd2ff" text-anchor="middle" font-weight="bold">20</text>
<rect x="930.20" y="628.95" width="9.10" height="5.60" fill="#5b25d0"/>
<text x="934.75" y="633.50" font-size="4.8" fill="#efd2ff" text-anchor="middle" font-weight="bold">20</text>
<rect x="930.20" y="635.52" width="9.10" height="5.60" fill="#5b25d0"/>
<text x="934.75" y="640.07" font-size="4.8" fill="#efd2ff" text-anchor="middle" font-weight="bold">20</text>
<rect x="930.20" y="642.09" width="9.10" height="5.60" fill="#5b25d0"/>
<text x="934.75" y="646.64" font-size="4.8" fill="#efd2ff" text-anchor="middle" font-weight="bold">20</text>
<rect x="930.20" y="648.66" width="9.10" height="5.60" fill="#5b25d0"/>
<text x="934.75" y="653.21" font-size="4.8" fill="#efd2ff" text-anchor="middle" font-weight="bold">20</text>
<rect x="930.20" y="655.23" width="9.10" height="5.60" fill="#5b25d0"/>
<text x="934.75" y="659.78" font-size="4.8" fill="#efd2ff" text-anchor="middle" font-weight="bold">20</text>
<rect x="930.20" y="661.80" width="9.10" height="5.60" fill="#5b25d0"/>
<text x="934.75" y="666.35" font-size="4.8" fill="#efd2ff" text-anchor="middle" font-weight="bold">20</text>
<rect x="930.20" y="668.37" width="9.10" height="5.60" fill="#5b25d0"/>
<text x="934.75" y="672.92" font-size="4.8" fill="#efd2ff" text-anchor="middle" font-weight="bold">20</text>
<rect x="930.20" y="674.94" width="9.10" height="5.60" fill="#5b25d0"/>
<text x="934.75" y="679.49" font-size="4.8" fill="#efd2ff" text-anchor="middle" font-weight="bold">20</text>
<rect x="930.20" y="681.51" width="9.10" height="5.60" fill="#5b25d0"/>
<text x="934.75" y="686.06" font-size="4.8" fill="#efd2ff" text-anchor="middle" font-weight="bold">20</text>
<rect x="930.20" y="694.65" width="9.10" height="5.60" fill="#5b25d0"/>
<text x="934.75" y="699.20" font-size="4.8" fill="#efd2ff" text-anchor="middle" font-weight="bold">20</text>
<rect x="897.20" y="602.67" width="8.60" height="5.60" fill="#5b25d0"/>
<text x="901.50" y="607.22" font-size="4.8" fill="#efd2ff" text-anchor="middle" font-weight="bold">75</text>
<rect x="931.60" y="602.67" width="6.00" height="5.60" fill="#5b25d0"/>
<rect x="931.60" y="604.47" width="0.75" height="2.00" fill="#cacaca" opacity="0.75"/>
<rect x="936.85" y="604.47" width="0.75" height="2.00" fill="#cacaca" opacity="0.75"/>
<rect x="933.85" y="603.77" width="1.50" height="3.40" fill="#ead0ff"/>
<rect x="897.20" y="688.08" width="8.60" height="5.60" fill="#5b25d0"/>
<text x="901.50" y="692.63" font-size="4.8" fill="#efd2ff" text-anchor="middle" font-weight="bold">75</text>
<rect x="931.60" y="688.08" width="6.00" height="5.60" fill="#5b25d0"/>
<rect x="931.60" y="689.88" width="0.75" height="2.00" fill="#cacaca" opacity="0.75"/>
<rect x="936.85" y="689.88" width="0.75" height="2.00" fill="#cacaca" opacity="0.75"/>
<rect x="933.85" y="689.18" width="1.50" height="3.40" fill="#ead0ff"/>
</g>
<g clip-path="url(#clipB)">
<rect x="35.30" y="700.60" width="1054.50" height="1.00" fill="#eeeeee"/>
<rect x="35.30" y="701.60" width="1054.50" height="8.00" fill="#fdfdfd"/>
<text y="707.32" font-size="5.6" font-weight="bold" fill="#2ea43a" stroke="#2ea43a" stroke-width="0.3" text-anchor="middle" x="42.4 53.5 64.5 70.0 81.1 92.1 103.2 119.7 136.3 147.4 158.4 175.0 186.0 191.5 202.6 213.6 224.7 230.2 241.3 252.3 263.3 268.9 279.9 285.4 296.5 307.5 318.6 324.1 335.1 351.7 362.8 373.8 390.4 401.4 412.5 423.5 451.1 462.2 473.2 489.8 500.8 511.9 522.9 528.4 534.0 545.0 556.1 567.1 572.6 583.7 594.7 605.8 622.3 633.4 644.4 650.0 661.0 672.0 688.6 699.7 710.7 721.8 727.3 732.8 743.8 754.9 765.9 771.5 782.5 793.6 804.6 821.2 832.2 843.3 848.8 859.8 870.9 881.9 898.5 909.5 920.6 931.6 948.2 959.2 970.3 986.9 997.9 1025.5 1036.6 1047.6 1058.7 1069.7">AAAAAAAAAAAAAAAAAAAAAAAAAAAAAAAAAAAAAAAAAAAAAAAAAAAAAAAAAAAAAAAAAAAAAAAAAAAAAAAAAAAAAAAAAAAA</text>
<text y="707.32" font-size="5.6" font-weight="bold" fill="#e2a052" stroke="#e2a052" stroke-width="0.3" text-anchor="middle" x="340.7 440.1">GG</text>
<text y="707.32" font-size="5.6" font-weight="bold" fill="#3a3ad0" stroke="#3a3ad0" stroke-width="0.3" text-anchor="middle" x="108.7">C</text>
<text y="707.32" font-size="5.6" font-weight="bold" fill="#e84a4a" stroke="#e84a4a" stroke-width="0.3" text-anchor="middle" x="36.9 47.9 59.0 75.6 86.6 97.7 114.2 125.3 130.8 141.8 152.9 163.9 169.5 180.5 197.1 208.1 219.2 235.7 246.8 257.8 274.4 291.0 302.0 313.0 329.6 346.2 357.2 368.3 379.3 384.8 395.9 406.9 418.0 429.0 434.6 445.6 456.6 467.7 478.7 484.3 495.3 506.4 517.4 539.5 550.5 561.6 578.2 589.2 600.2 611.3 616.8 627.9 638.9 655.5 666.5 677.6 683.1 694.1 705.2 716.2 738.3 749.4 760.4 777.0 788.0 799.1 810.1 815.6 826.7 837.7 854.3 865.3 876.4 887.4 893.0 904.0 915.1 926.1 937.1 942.7 953.7 964.8 975.8 981.3 992.4 1003.4 1008.9 1014.5 1020.0 1031.0 1042.1 1053.1 1064.2 1075.2 1080.7 1086.3">TTTTTTTTTTTTTTTTTTTTTTTTTTTTTTTTTTTTTTTTTTTTTTTTTTTTTTTTTTTTTTTTTTTTTTTTTTTTTTTTTTTTTTTTTTTTTTTT</text>
</g>
<text x="112.60" y="727.40" font-size="17.9" fill="#0433ff" text-anchor="start" font-weight="normal">INS-1 (82 bp)</text>
<text x="538.70" y="727.40" font-size="17.9" fill="#0433ff" text-anchor="start" font-weight="normal">INS-2 (147 bp)</text>
<text x="880.40" y="727.40" font-size="17.9" fill="#0433ff" text-anchor="start" font-weight="normal">INS-3 (20 bp)</text>
<text x="14.30" y="755.40" font-size="17.7" fill="#0433ff" text-anchor="start" font-weight="normal">INS-1</text>
<text x="59.40" y="755.40" font-size="17.7" fill="#000" text-anchor="start" font-weight="normal">:</text>
<text x="69.80" y="755.40" font-size="17.7" fill="#000" text-anchor="start" font-weight="normal" textLength="931.2" lengthAdjust="spacing">TATTATATATTATATAATATATAATATATACTATTATATATTATTATATATAATATATAATAATATATAATAGTATATATTA</text>
<text x="14.30" y="784.50" font-size="17.7" fill="#0433ff" text-anchor="start" font-weight="normal">INS-2</text>
<text x="59.40" y="784.50" font-size="17.7" fill="#000" text-anchor="start" font-weight="normal">:</text>
<text x="69.80" y="784.50" font-size="17.7" fill="#000" text-anchor="start" font-weight="normal" textLength="1087.9" lengthAdjust="spacing">TTATATATATTGTATATATTATATATAATATATAATATATTATATATAAATATATAATATATATTATATAATATATTATATATAAATATATAATAT</text>
<text x="70.00" y="804.70" font-size="17.7" fill="#000" text-anchor="start" font-weight="normal" textLength="575.0" lengthAdjust="spacing">ATATTATATAATATATATTATATAATATATATTATAATATATTATATATAT</text>
<text x="14.30" y="836.70" font-size="17.7" fill="#0433ff" text-anchor="start" font-weight="normal">INS-3</text>
<text x="59.40" y="836.70" font-size="17.7" fill="#000" text-anchor="start" font-weight="normal">:</text>
<text x="70.00" y="836.70" font-size="17.7" fill="#000" text-anchor="start" font-weight="normal" textLength="226.0" lengthAdjust="spacing">ATAATAATATATTATATATA</text>
<text x="39.00" y="889.50" font-size="21" fill="#000" text-anchor="start" font-weight="bold">c</text>
<rect x="142.30" y="888.20" width="8.80" height="8.60" fill="#ed7d31"/>
<text x="155.00" y="896.80" font-size="17.6" fill="#000" text-anchor="start" font-weight="normal" textLength="100">Multi TR-INS</text>
<rect x="142.30" y="907.30" width="8.80" height="8.60" fill="#4472c4"/>
<text x="155.00" y="916.00" font-size="17.6" fill="#000" text-anchor="start" font-weight="normal" textLength="113.3">Single TR-INS</text>
<path d="M139.0 923.3H310.0M139.0 956.6H310.0M139.0 989.9H310.0M139.0 1023.2H310.0M139.0 1056.5H310.0M139.0 1089.8H310.0M139.0 1123.1H310.0" stroke="#d4d4d4" stroke-width="1.5" fill="none"/>
<text x="124.30" y="928.30" font-size="17.7" fill="#000" text-anchor="end" font-weight="normal">12000</text>
<text x="124.30" y="961.60" font-size="17.7" fill="#000" text-anchor="end" font-weight="normal">10000</text>
<text x="124.30" y="994.90" font-size="17.7" fill="#000" text-anchor="end" font-weight="normal">8000</text>
<text x="124.30" y="1028.20" font-size="17.7" fill="#000" text-anchor="end" font-weight="normal">6000</text>
<text x="124.30" y="1061.50" font-size="17.7" fill="#000" text-anchor="end" font-weight="normal">4000</text>
<text x="124.30" y="1094.80" font-size="17.7" fill="#000" text-anchor="end" font-weight="normal">2000</text>
<text x="124.30" y="1128.10" font-size="17.7" fill="#000" text-anchor="end" font-weight="normal">0</text>
<rect x="156.70" y="1007.00" width="22.30" height="116.10" fill="#4472c4"/>
<rect x="156.70" y="961.70" width="22.30" height="45.30" fill="#ed7d31"/>
<rect x="213.30" y="1005.30" width="22.70" height="117.80" fill="#4472c4"/>
<rect x="213.30" y="987.00" width="22.70" height="18.30" fill="#ed7d31"/>
<rect x="270.00" y="1005.70" width="23.30" height="117.40" fill="#4472c4"/>
<rect x="270.00" y="962.30" width="23.30" height="43.40" fill="#ed7d31"/>
<text transform="translate(54.7 1014.7) rotate(-90)" font-size="20.65" text-anchor="middle" fill="#000">Number of INS in TR</text>
<text transform="translate(170.5 1145.3) rotate(-45)" font-size="17.8" text-anchor="end" fill="#000">Minimap2</text>
<text transform="translate(228.5 1145.3) rotate(-45)" font-size="17.8" text-anchor="end" fill="#000">NGM-LR</text>
<text transform="translate(285.5 1145.3) rotate(-45)" font-size="17.8" text-anchor="end" fill="#000">Winnowmap2</text>
<text x="340.00" y="890.00" font-size="21" fill="#000" text-anchor="start" font-weight="bold">d</text>
<rect x="436.70" y="898.20" width="8.80" height="8.60" fill="#4472c4"/>
<text x="450.00" y="907.00" font-size="17.6" fill="#000" text-anchor="start" font-weight="normal">1 INS</text>
<rect x="514.30" y="898.20" width="8.80" height="8.60" fill="#ed7d31"/>
<text x="527.30" y="907.00" font-size="17.6" fill="#000" text-anchor="start" font-weight="normal">2 INSs</text>
<rect x="600.80" y="898.20" width="8.80" height="8.60" fill="#a5a5a5"/>
<path d="M615.3 897.3l9.3 3.3l-9.3 3.3M615.3 906.5h9.3M615.3 909.4h9.3" stroke="#111" stroke-width="1.15" fill="none"/>
<text x="630.70" y="909.20" font-size="17.6" fill="#000" text-anchor="start" font-weight="normal">3 INSs</text>
<path d="M436.7 920.7H709.0M436.7 971.0H709.0M436.7 1021.4H709.0M436.7 1071.7H709.0M436.7 1122.0H709.0" stroke="#d4d4d4" stroke-width="1.5" fill="none"/>
<text x="421.00" y="925.70" font-size="17.7" fill="#000" text-anchor="end" font-weight="normal">16000</text>
<text x="421.00" y="976.03" font-size="17.7" fill="#000" text-anchor="end" font-weight="normal">12000</text>
<text x="421.00" y="1026.36" font-size="17.7" fill="#000" text-anchor="end" font-weight="normal">8000</text>
<text x="421.00" y="1076.69" font-size="17.7" fill="#000" text-anchor="end" font-weight="normal">4000</text>
<text x="421.00" y="1127.02" font-size="17.7" fill="#000" text-anchor="end" font-weight="normal">0</text>
<rect x="448.30" y="1017.70" width="15.60" height="104.30" fill="#4472c4"/>
<rect x="448.30" y="1012.70" width="15.60" height="5.00" fill="#ed7d31"/>
<rect x="448.30" y="1010.70" width="15.60" height="2.00" fill="#a5a5a5"/>
<rect x="487.20" y="1010.70" width="15.60" height="111.30" fill="#4472c4"/>
<rect x="487.20" y="989.30" width="15.60" height="21.40" fill="#ed7d31"/>
<rect x="487.20" y="978.30" width="15.60" height="11.00" fill="#a5a5a5"/>
<rect x="526.10" y="1011.70" width="15.60" height="110.30" fill="#4472c4"/>
<rect x="526.10" y="986.70" width="15.60" height="25.00" fill="#ed7d31"/>
<rect x="526.10" y="976.70" width="15.60" height="10.00" fill="#a5a5a5"/>
<rect x="565.00" y="1016.70" width="15.60" height="105.30" fill="#4472c4"/>
<rect x="565.00" y="1004.00" width="15.60" height="12.70" fill="#ed7d31"/>
<rect x="565.00" y="997.70" width="15.60" height="6.30" fill="#a5a5a5"/>
<rect x="603.90" y="1051.70" width="15.60" height="70.30" fill="#4472c4"/>
<rect x="603.90" y="1041.70" width="15.60" height="10.00" fill="#ed7d31"/>
<rect x="603.90" y="1036.00" width="15.60" height="5.70" fill="#a5a5a5"/>
<rect x="642.80" y="996.00" width="15.60" height="126.00" fill="#4472c4"/>
<rect x="642.80" y="968.70" width="15.60" height="27.30" fill="#ed7d31"/>
<rect x="642.80" y="956.00" width="15.60" height="12.70" fill="#a5a5a5"/>
<rect x="681.70" y="966.70" width="15.60" height="155.30" fill="#4472c4"/>
<rect x="681.70" y="951.70" width="15.60" height="15.00" fill="#ed7d31"/>
<rect x="681.70" y="935.70" width="15.60" height="16.00" fill="#a5a5a5"/>
<text transform="translate(356.7 1018.7) rotate(-90)" font-size="20.65" text-anchor="middle" fill="#000">Number of INS in TR</text>
<text transform="translate(460.0 1144.2) rotate(-45)" font-size="17.8" text-anchor="end" fill="#000">cuteSV</text>
<text transform="translate(498.9 1144.2) rotate(-45)" font-size="17.8" text-anchor="end" fill="#000">dysgu</text>
<text transform="translate(537.8 1144.2) rotate(-45)" font-size="17.8" text-anchor="end" fill="#000">Nanovar</text>
<text transform="translate(576.7 1144.2) rotate(-45)" font-size="17.8" text-anchor="end" fill="#000">pbsv</text>
<text transform="translate(615.6 1144.2) rotate(-45)" font-size="17.8" text-anchor="end" fill="#000">Sniffles</text>
<text transform="translate(654.5 1144.2) rotate(-45)" font-size="17.8" text-anchor="end" fill="#000">SVDSS</text>
<text transform="translate(693.4 1144.2) rotate(-45)" font-size="17.8" text-anchor="end" fill="#000">SVIM</text>
<text x="735.00" y="890.00" font-size="21" fill="#000" text-anchor="start" font-weight="bold">e</text>
<rect x="839.20" y="904.50" width="8.80" height="8.60" fill="#4472c4"/>
<text x="852.30" y="913.30" font-size="17.6" fill="#000" text-anchor="start" font-weight="normal">1 DEL</text>
<rect x="915.00" y="904.50" width="8.80" height="8.60" fill="#ed7d31"/>
<text x="927.30" y="913.30" font-size="17.6" fill="#000" text-anchor="start" font-weight="normal">2 DELs</text>
<rect x="999.20" y="904.50" width="8.80" height="8.60" fill="#a5a5a5"/>
<path d="M1013.6 903.3l9.3 3.3l-9.3 3.3M1013.6 912.5h9.3M1013.6 915.4h9.3" stroke="#111" stroke-width="1.15" fill="none"/>
<text x="1029.30" y="915.20" font-size="17.6" fill="#000" text-anchor="start" font-weight="normal">3 DELs</text>
<path d="M834.3 919.3H1106.7M834.3 987.3H1106.7M834.3 1055.3H1106.7M834.3 1123.3H1106.7" stroke="#d4d4d4" stroke-width="1.5" fill="none"/>
<text x="819.30" y="924.30" font-size="17.7" fill="#000" text-anchor="end" font-weight="normal">9000</text>
<text x="819.30" y="992.30" font-size="17.7" fill="#000" text-anchor="end" font-weight="normal">6000</text>
<text x="819.30" y="1060.30" font-size="17.7" fill="#000" text-anchor="end" font-weight="normal">3000</text>
<text x="819.30" y="1128.30" font-size="17.7" fill="#000" text-anchor="end" font-weight="normal">0</text>
<rect x="846.70" y="997.70" width="15.40" height="125.60" fill="#4472c4"/>
<rect x="846.70" y="989.30" width="15.40" height="8.40" fill="#ed7d31"/>
<rect x="846.70" y="988.70" width="15.40" height="0.60" fill="#a5a5a5"/>
<rect x="885.60" y="976.70" width="15.40" height="146.60" fill="#4472c4"/>
<rect x="885.60" y="954.70" width="15.40" height="22.00" fill="#ed7d31"/>
<rect x="885.60" y="943.30" width="15.40" height="11.40" fill="#a5a5a5"/>
<rect x="924.50" y="1007.70" width="15.40" height="115.60" fill="#4472c4"/>
<rect x="924.50" y="994.30" width="15.40" height="13.40" fill="#ed7d31"/>
<rect x="924.50" y="990.70" width="15.40" height="3.60" fill="#a5a5a5"/>
<rect x="963.40" y="1006.70" width="15.40" height="116.60" fill="#4472c4"/>
<rect x="963.40" y="997.30" width="15.40" height="9.40" fill="#ed7d31"/>
<rect x="963.40" y="994.00" width="15.40" height="3.30" fill="#a5a5a5"/>
<rect x="1002.30" y="1025.00" width="15.40" height="98.30" fill="#4472c4"/>
<rect x="1002.30" y="1015.00" width="15.40" height="10.00" fill="#ed7d31"/>
<rect x="1002.30" y="1009.30" width="15.40" height="5.70" fill="#a5a5a5"/>
<rect x="1041.20" y="989.30" width="15.40" height="134.00" fill="#4472c4"/>
<rect x="1041.20" y="968.70" width="15.40" height="20.60" fill="#ed7d31"/>
<rect x="1041.20" y="962.00" width="15.40" height="6.70" fill="#a5a5a5"/>
<rect x="1080.10" y="955.00" width="15.40" height="168.30" fill="#4472c4"/>
<rect x="1080.10" y="942.70" width="15.40" height="12.30" fill="#ed7d31"/>
<rect x="1080.10" y="931.00" width="15.40" height="11.70" fill="#a5a5a5"/>
<text transform="translate(751.7 1019.7) rotate(-90)" font-size="20.65" text-anchor="middle" fill="#000">Number of DEL in TR</text>
<text transform="translate(857.8 1145.2) rotate(-45)" font-size="17.8" text-anchor="end" fill="#000">cuteSV</text>
<text transform="translate(896.7 1145.2) rotate(-45)" font-size="17.8" text-anchor="end" fill="#000">dysgu</text>
<text transform="translate(935.6 1145.2) rotate(-45)" font-size="17.8" text-anchor="end" fill="#000">Nanovar</text>
<text transform="translate(974.5 1145.2) rotate(-45)" font-size="17.8" text-anchor="end" fill="#000">pbsv</text>
<text transform="translate(1013.4 1145.2) rotate(-45)" font-size="17.8" text-anchor="end" fill="#000">Sniffles</text>
<text transform="translate(1052.3 1145.2) rotate(-45)" font-size="17.8" text-anchor="end" fill="#000">SVDSS</text>
<text transform="translate(1091.2 1145.2) rotate(-45)" font-size="17.8" text-anchor="end" fill="#000">SVIM</text>
</svg></body></html>
